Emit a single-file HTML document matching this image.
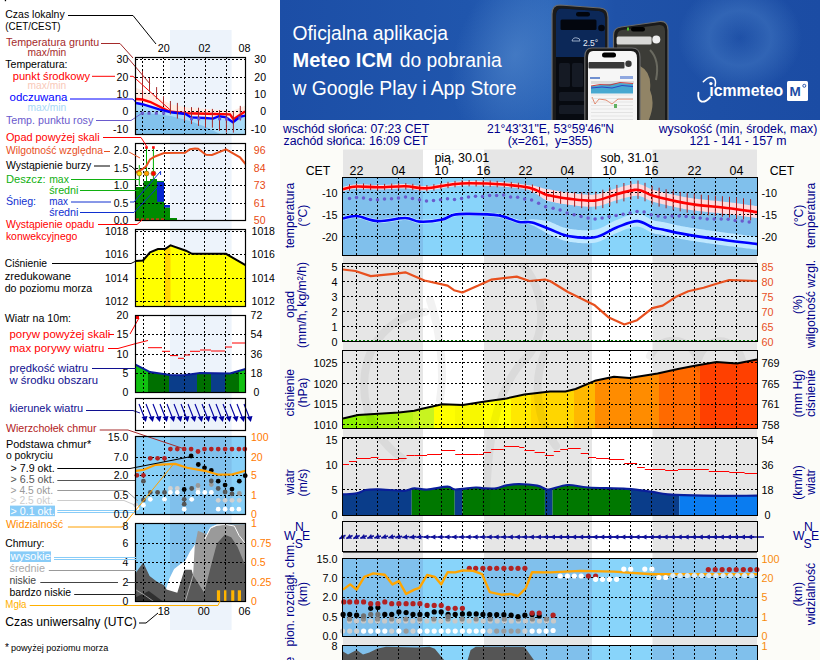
<!DOCTYPE html><html><head><meta charset="utf-8"><style>
html,body{margin:0;padding:0;background:#fff;}
svg{display:block;font-family:"Liberation Sans", sans-serif;}
</style></head><body><svg width="820" height="660" viewBox="0 0 820 660">
<rect x="0" y="0" width="820" height="660" fill="#ffffff"/>
<rect x="280" y="120" width="540" height="540" fill="#fcfcf8"/>
<defs>
<linearGradient id="bg1" x1="0" y1="0" x2="1" y2="0">
<stop offset="0" stop-color="#1c4ea6"/><stop offset="0.35" stop-color="#2056ad"/><stop offset="0.5" stop-color="#2a64b8"/><stop offset="0.62" stop-color="#1f52a8"/><stop offset="1" stop-color="#1b4ca4"/>
</linearGradient>
<radialGradient id="glow1" cx="0.5" cy="0.5" r="0.5"><stop offset="0" stop-color="#5a8fd0" stop-opacity="0.55"/><stop offset="1" stop-color="#5a8fd0" stop-opacity="0"/></radialGradient>
<radialGradient id="glow2" cx="0.5" cy="0.5" r="0.5"><stop offset="0" stop-color="#4a80c8" stop-opacity="0.05"/><stop offset="0.25" stop-color="#4a80c8" stop-opacity="0.25"/><stop offset="0.5" stop-color="#4a80c8" stop-opacity="0.45"/><stop offset="1" stop-color="#4a80c8" stop-opacity="0"/></radialGradient>
<clipPath id="bclip"><rect x="280" y="0" width="540" height="120"/></clipPath>
</defs>
<g clip-path="url(#bclip)">
<rect x="280" y="0" width="540" height="120" fill="url(#bg1)"/>
<ellipse cx="515" cy="55" rx="60" ry="90" fill="url(#glow1)" transform="rotate(20 515 55)"/>
<ellipse cx="740" cy="38" rx="62" ry="55" fill="url(#glow2)"/>
<text x="292.5" y="39.5" font-size="19.3" fill="#ffffff">Oficjalna aplikacja</text>
<text x="292.5" y="67.3" font-size="19.3" fill="#ffffff"><tspan font-weight="bold" textLength="100" lengthAdjust="spacingAndGlyphs">Meteo ICM</tspan><tspan x="399.8">do pobrania</tspan></text>
<text x="292.5" y="95.3" font-size="19.3" fill="#ffffff">w Google Play i App Store</text>
<path d="M560,5 L600,8 Q608,8.5 608,17 L608,125 L552,125 L552,14 Q552,5 560,5 Z" fill="#1a1a1a" stroke="#6a6a6a" stroke-width="1.2"/>
<path d="M562,8.5 L599,11 Q605,11.5 605,18 L605,125 L556,125 L556,16 Q556,8 562,8.5 Z" fill="#070a10"/>
<path d="M562,8.5 L599,11 Q605,11.5 605,18 L605,57 L556,57 L556,16 Q556,8 562,8.5 Z" fill="#0c2858"/>
<rect x="576" y="12" width="14" height="4.5" rx="2.2" fill="#02050c"/>
<rect x="560.5" y="19.5" width="36" height="10.5" rx="1.5" fill="#03060e"/>
<circle cx="601.5" cy="28" r="3.3" fill="#03060e"/>
<text x="583" y="45.5" font-size="8.5" fill="#e8eef8">2.5°</text>
<path d="M572,41 q1,-4 5,-3 q3,0 3,3 z" fill="none" stroke="#b8c8e0" stroke-width="0.8"/>
<rect x="559" y="63" width="11" height="24" rx="1.5" fill="#151a24"/>
<rect x="572" y="63" width="11" height="24" rx="1.5" fill="#151a24"/>
<rect x="585" y="63" width="11" height="24" rx="1.5" fill="#151a24"/>
<rect x="559" y="92" width="38" height="9" rx="1.5" fill="#151a24"/>
<rect x="559" y="105" width="38" height="9" rx="1.5" fill="#151a24"/>
<path d="M621,27 L660,21.5 Q668,21 668,30 L668,125 L613.5,125 L613.5,35 Q613.5,28 621,27 Z" fill="#1a1a1a" stroke="#6a6a6a" stroke-width="1.2"/>
<path d="M622,30 L659,25 Q665,24.5 665,31 L665,125 L617,125 L617,37 Q617,31 622,30 Z" fill="#3c3c37"/>
<path d="M640,66 Q652,72 650,90 Q656,104 648,122 L632,122 Q628,98 640,66 Z" fill="#9a8c6c" opacity="0.9"/>
<path d="M622,80 Q630,92 626,104 L620,106 Z" fill="#6a6456"/>
<path d="M650,50 Q660,60 656,80" fill="none" stroke="#6a6a60" stroke-width="2"/>
<rect x="616.6" y="36.5" width="35" height="8" rx="1.5" fill="#d8d8d6"/>
<circle cx="656.3" cy="39.6" r="4" fill="#f0f0f0"/>
<rect x="631" y="27" width="14" height="4.5" rx="2.2" fill="#000"/>
<rect x="627" y="27.5" width="2" height="3" fill="#50c030"/>
<path d="M592,48 L632,48 Q640,48 640,57 L640,125 L584.8,125 L584.8,57 Q584.8,48 592,48 Z" fill="#1a1a1a" stroke="#6a6a6a" stroke-width="1.2"/>
<path d="M593,51 L631,51 Q637,51 637,58 L637,125 L588,125 L588,58 Q588,51 593,51 Z" fill="#f6f6f6"/>
<rect x="602" y="52.5" width="14" height="5" rx="2.5" fill="#000"/>
<rect x="588.5" y="62" width="36" height="6.5" rx="1" fill="#383838"/>
<circle cx="628.5" cy="63.8" r="3.2" fill="#383838"/>
<rect x="590" y="77" width="10" height="2" fill="#7090d0"/>
<rect x="620" y="76" width="13" height="3" fill="#90a8e0"/>
<rect x="591" y="81" width="43" height="3" fill="#dcdcdc"/>
<polygon points="591,86 600,85 610,84 620,83 633,84 633,93.5 591,93.5" fill="#48a8d0"/>
<polyline points="591,86 600,84.5 610,85 620,82.5 633,83.5" fill="none" stroke="#d03030" stroke-width="0.9"/>
<polyline points="591,88 602,87 612,88 622,85.5 633,86.5" fill="none" stroke="#2a3ac0" stroke-width="0.9"/>
<polyline points="592,97 595,104 599,99 606,100 612,104 618,99 633,99" fill="none" stroke="#e06a48" stroke-width="0.8"/>
<line x1="591" y1="95.0" x2="633" y2="95.0" stroke="#d0d0d0" stroke-width="0.5"/>
<line x1="591" y1="98.5" x2="633" y2="98.5" stroke="#d0d0d0" stroke-width="0.5"/>
<line x1="591" y1="102.0" x2="633" y2="102.0" stroke="#d0d0d0" stroke-width="0.5"/>
<line x1="591" y1="105.5" x2="633" y2="105.5" stroke="#d0d0d0" stroke-width="0.5"/>
<line x1="591" y1="109.0" x2="633" y2="109.0" stroke="#d0d0d0" stroke-width="0.5"/>
<line x1="591" y1="112.5" x2="633" y2="112.5" stroke="#d0d0d0" stroke-width="0.5"/>
<line x1="591" y1="116.0" x2="633" y2="116.0" stroke="#d0d0d0" stroke-width="0.5"/>
<line x1="591" y1="119.5" x2="633" y2="119.5" stroke="#d0d0d0" stroke-width="0.5"/>
<rect x="614" y="104" width="3" height="4" fill="#60b060"/>
<path d="M703.3,81.8 Q709,75.5 713.5,77.8 Q716.5,80 715.1,86" fill="none" stroke="#ffffff" stroke-width="1.5" stroke-linecap="round"/>
<path d="M698.4,92.6 Q697.5,100 701.5,101.5 Q705.5,102.5 710,97.3" fill="none" stroke="#ffffff" stroke-width="1.9" stroke-linecap="round"/>
<circle cx="710.9" cy="83.6" r="1.7" fill="#ffffff"/>
<text x="709.3" y="95.7" font-size="17" font-weight="bold" fill="#ffffff" textLength="74" lengthAdjust="spacingAndGlyphs">ıcmmeteo</text>
<rect x="787" y="81" width="21" height="20" rx="1.5" fill="#ffffff"/>
<text x="789.5" y="96" font-size="13.5" font-weight="bold" fill="#1b4ca4">M</text>
<circle cx="804.3" cy="85.8" r="1.5" fill="none" stroke="#1b4ca4" stroke-width="0.9"/>
</g>
<text x="283" y="132.5" font-size="12.3" fill="#00008b" text-anchor="start" font-weight="normal" >wschód słońca: 07:23 CET</text>
<text x="283.5" y="145" font-size="12.3" fill="#00008b" text-anchor="start" font-weight="normal" >zachód słońca: 16:09 CET</text>
<text x="550.5" y="132.5" font-size="12.1" fill="#00008b" text-anchor="middle" font-weight="normal" >21°43'31"E, 53°59'46"N</text>
<text x="550" y="145" font-size="12.1" fill="#00008b" text-anchor="middle" font-weight="normal" >(x=261,&#160; y=355)</text>
<text x="738" y="132.5" font-size="12.3" fill="#00008b" text-anchor="middle" font-weight="normal" >wysokość (min, środek, max)</text>
<text x="738" y="145" font-size="12.3" fill="#00008b" text-anchor="middle" font-weight="normal" >121 - 141 - 157 m</text>
<rect x="343" y="149.5" width="414" height="27.5" fill="#e6e6e6"/>
<rect x="423" y="149.5" width="61.0" height="27.5" fill="#ffffff"/>
<rect x="592" y="149.5" width="60.5" height="27.5" fill="#ffffff"/>
<text x="434.4" y="162" font-size="12.5" fill="#000" text-anchor="start" font-weight="normal" >pią, 30.01</text>
<text x="600.4" y="162" font-size="12.5" fill="#000" text-anchor="start" font-weight="normal" >sob, 31.01</text>
<text x="356.5" y="174.5" font-size="12.5" fill="#000" text-anchor="middle" font-weight="normal" >22</text>
<text x="398.5" y="174.5" font-size="12.5" fill="#000" text-anchor="middle" font-weight="normal" >04</text>
<text x="441.5" y="174.5" font-size="12.5" fill="#000" text-anchor="middle" font-weight="normal" >10</text>
<text x="483.5" y="174.5" font-size="12.5" fill="#000" text-anchor="middle" font-weight="normal" >16</text>
<text x="525.5" y="174.5" font-size="12.5" fill="#000" text-anchor="middle" font-weight="normal" >22</text>
<text x="567.5" y="174.5" font-size="12.5" fill="#000" text-anchor="middle" font-weight="normal" >04</text>
<text x="609.5" y="174.5" font-size="12.5" fill="#000" text-anchor="middle" font-weight="normal" >10</text>
<text x="651.5" y="174.5" font-size="12.5" fill="#000" text-anchor="middle" font-weight="normal" >16</text>
<text x="694.5" y="174.5" font-size="12.5" fill="#000" text-anchor="middle" font-weight="normal" >22</text>
<text x="736.5" y="174.5" font-size="12.5" fill="#000" text-anchor="middle" font-weight="normal" >04</text>
<text x="318" y="174.5" font-size="12.3" fill="#000" text-anchor="middle" font-weight="normal" >CET</text>
<text x="782" y="174.5" font-size="12.3" fill="#000" text-anchor="middle" font-weight="normal" >CET</text>
<rect x="343" y="256" width="414" height="7" fill="#e6e6e6"/>
<rect x="423" y="256" width="61.0" height="7" fill="#ffffff"/>
<rect x="592" y="256" width="60.5" height="7" fill="#ffffff"/>
<rect x="343" y="342" width="414" height="8" fill="#e6e6e6"/>
<rect x="423" y="342" width="61.0" height="8" fill="#ffffff"/>
<rect x="592" y="342" width="60.5" height="8" fill="#ffffff"/>
<rect x="343" y="429" width="414" height="8" fill="#e6e6e6"/>
<rect x="423" y="429" width="61.0" height="8" fill="#ffffff"/>
<rect x="592" y="429" width="60.5" height="8" fill="#ffffff"/>
<rect x="343" y="516" width="414" height="5" fill="#e6e6e6"/>
<rect x="423" y="516" width="61.0" height="5" fill="#ffffff"/>
<rect x="592" y="516" width="60.5" height="5" fill="#ffffff"/>
<rect x="343" y="552" width="414" height="6" fill="#e6e6e6"/>
<rect x="423" y="552" width="61.0" height="6" fill="#ffffff"/>
<rect x="592" y="552" width="60.5" height="6" fill="#ffffff"/>
<rect x="343" y="637" width="414" height="8" fill="#e6e6e6"/>
<rect x="423" y="637" width="61.0" height="8" fill="#ffffff"/>
<rect x="592" y="637" width="60.5" height="8" fill="#ffffff"/>
<rect x="343" y="177" width="414" height="79" fill="#80c0ec"/>
<rect x="423" y="177" width="61.0" height="79" fill="#88d4fa"/>
<rect x="592" y="177" width="60.5" height="79" fill="#88d4fa"/>
<polygon points="343.0,186.9 343.8,186.7 344.7,186.5 345.8,186.2 347.1,185.9 348.4,185.6 349.5,185.3 349.9,185.2 351.5,184.9 353.0,184.7 353.1,184.6 354.8,184.4 356.5,184.3 356.6,184.3 358.4,184.3 360.0,184.3 360.4,184.3 362.4,184.3 363.5,184.4 364.5,184.5 366.7,184.6 367.0,184.6 368.9,184.7 370.6,184.8 371.2,184.9 373.6,185.0 374.1,185.0 376.0,185.1 377.6,185.1 378.4,185.1 380.9,185.1 381.1,185.1 383.6,185.0 384.6,184.9 386.3,184.8 388.1,184.7 389.1,184.7 391.7,184.5 391.9,184.5 394.8,184.4 395.2,184.3 397.5,184.2 398.7,184.2 400.2,184.1 402.2,184.1 402.8,184.1 405.3,184.1 405.8,184.1 407.6,184.2 409.3,184.4 409.8,184.4 411.8,184.7 412.8,184.8 413.8,185.0 415.7,185.3 416.3,185.4 417.6,185.6 419.6,185.8 419.8,185.8 421.6,186.0 423.3,186.1 423.6,186.1 425.8,186.1 426.9,186.0 428.1,186.0 430.4,185.7 430.5,185.7 432.9,185.4 433.9,185.2 435.4,185.0 437.4,184.6 438.0,184.5 440.5,184.1 440.9,184.0 443.0,183.6 444.4,183.3 445.4,183.2 447.8,182.8 448.0,182.8 450.0,182.5 451.5,182.3 452.1,182.3 453.9,182.0 455.0,181.9 455.7,181.8 457.3,181.6 458.5,181.5 459.0,181.4 460.7,181.3 462.1,181.2 462.5,181.2 464.5,181.1 465.6,181.1 466.8,181.0 469.1,181.0 469.3,181.0 472.2,181.0 472.6,181.0 475.4,181.0 476.1,181.1 478.8,181.1 479.6,181.1 482.5,181.2 483.2,181.2 486.2,181.3 486.7,181.4 490.0,181.5 490.2,181.5 493.7,181.7 493.7,181.7 497.2,181.9 497.3,181.9 500.7,182.1 500.7,182.1 503.9,182.3 504.3,182.3 506.9,182.5 507.8,182.6 509.8,182.8 511.3,182.9 512.6,183.0 514.8,183.3 515.3,183.3 517.9,183.6 518.4,183.7 520.4,184.0 521.9,184.2 522.9,184.3 525.2,184.7 525.4,184.8 527.4,185.1 528.9,185.3 529.5,185.3 531.5,185.5 532.4,185.6 533.4,185.7 535.2,186.1 535.9,186.3 536.9,186.5 538.5,186.9 539.5,187.2 540.0,187.4 541.4,187.8 542.6,188.2 543.0,188.3 543.8,188.5 544.9,188.8 545.8,189.0 546.4,189.1 546.5,189.1 546.8,189.1 547.1,189.2 547.3,189.2 547.5,189.2 547.9,189.2 548.3,189.2 549.0,189.3 550.0,189.5 550.0,189.5 551.2,189.7 552.6,190.0 553.5,190.2 554.1,190.3 555.8,190.7 557.0,190.9 557.6,191.0 559.5,191.4 560.6,191.5 561.5,191.7 563.5,192.0 564.1,192.1 565.7,192.3 567.6,192.6 567.9,192.6 570.2,192.9 571.1,193.0 572.8,193.2 574.6,193.4 575.5,193.5 578.1,193.9 578.3,193.9 581.1,194.2 581.7,194.2 584.0,194.5 585.2,194.5 586.8,194.7 588.7,194.7 589.6,194.8 592.2,194.7 592.3,194.7 594.8,194.6 595.8,194.5 597.2,194.3 599.3,193.9 599.5,193.8 601.8,193.2 602.8,192.9 604.1,192.5 606.3,191.8 606.3,191.8 608.4,191.0 609.8,190.5 610.5,190.2 612.6,189.5 613.3,189.2 614.6,188.8 616.6,188.2 616.9,188.1 618.6,187.7 620.4,187.2 620.6,187.1 622.6,186.6 623.9,186.2 624.5,186.1 626.4,185.6 627.4,185.3 628.3,185.1 630.0,184.7 630.9,184.5 631.6,184.4 633.1,184.1 634.4,183.9 634.5,183.9 635.7,183.8 636.7,183.7 637.5,183.7 638.0,183.7 638.2,183.7 638.8,183.8 639.4,184.0 640.0,184.2 640.7,184.4 641.4,184.6 641.5,184.7 642.2,184.9 643.1,185.2 643.9,185.6 644.8,186.0 645.0,186.1 645.6,186.5 646.5,186.9 647.5,187.5 648.5,188.0 648.5,188.0 649.7,188.5 651.0,189.0 652.1,189.4 652.4,189.5 654.0,190.0 655.6,190.4 655.8,190.5 657.8,191.0 659.1,191.4 659.9,191.6 662.0,192.1 662.6,192.2 664.2,192.6 666.1,193.1 666.4,193.1 668.6,193.7 669.6,193.9 670.8,194.1 672.9,194.6 673.2,194.7 674.9,195.0 676.7,195.4 676.8,195.4 678.6,195.8 680.2,196.2 680.4,196.2 682.2,196.6 683.7,196.9 684.1,196.9 686.1,197.3 687.2,197.5 688.3,197.7 690.7,198.0 690.7,198.0 693.4,198.4 694.3,198.5 696.4,198.8 697.8,198.9 699.7,199.2 701.3,199.3 703.3,199.6 704.8,199.7 707.0,200.0 708.4,200.1 710.9,200.4 711.9,200.4 714.8,200.7 715.4,200.8 718.6,201.1 718.9,201.2 722.4,201.5 722.4,201.5 725.9,201.9 726.0,201.9 729.3,202.3 729.5,202.3 732.5,202.7 733.0,202.8 735.8,203.1 736.5,203.2 739.1,203.6 740.0,203.7 742.3,204.0 743.5,204.2 745.4,204.4 747.0,204.7 748.3,204.9 750.6,205.2 751.0,205.2 753.4,205.6 754.1,205.7 755.4,205.9 757.0,206.1 757.0,218.1 755.4,217.9 754.1,217.7 753.4,217.6 751.0,217.2 750.6,217.2 748.3,216.9 747.0,216.7 745.4,216.4 743.5,216.2 742.3,216.0 740.0,215.7 739.1,215.6 736.5,215.2 735.8,215.1 733.0,214.8 732.5,214.7 729.5,214.3 729.3,214.3 726.0,213.9 725.9,213.9 722.4,213.5 722.4,213.5 718.9,213.2 718.6,213.1 715.4,212.8 714.8,212.7 711.9,212.4 710.9,212.4 708.4,212.1 707.0,212.0 704.8,211.7 703.3,211.6 701.3,211.3 699.7,211.2 697.8,210.9 696.4,210.8 694.3,210.5 693.4,210.4 690.7,210.0 690.7,210.0 688.3,209.7 687.2,209.5 686.1,209.3 684.1,208.9 683.7,208.9 682.2,208.6 680.4,208.2 680.2,208.2 678.6,207.8 676.8,207.4 676.7,207.4 674.9,207.0 673.2,206.7 672.9,206.6 670.8,206.1 669.6,205.9 668.6,205.7 666.4,205.1 666.1,205.1 664.2,204.6 662.6,204.2 662.0,204.1 659.9,203.6 659.1,203.4 657.8,203.0 655.8,202.5 655.6,202.4 654.0,202.0 652.4,201.5 652.1,201.4 651.0,201.0 649.7,200.5 648.5,200.0 648.5,200.0 647.5,199.5 646.5,198.9 645.6,198.5 645.0,198.1 644.8,198.0 643.9,197.6 643.1,197.2 642.2,196.9 641.5,196.7 641.4,196.6 640.7,196.4 640.0,196.2 639.4,196.0 638.8,195.8 638.2,195.7 638.0,195.7 637.5,195.7 636.7,195.7 635.7,195.8 634.5,195.9 634.4,195.9 633.1,196.1 631.6,196.4 630.9,196.5 630.0,196.7 628.3,197.1 627.4,197.3 626.4,197.6 624.5,198.1 623.9,198.2 622.6,198.6 620.6,199.1 620.4,199.2 618.6,199.7 616.9,200.1 616.6,200.2 614.6,200.8 613.3,201.2 612.6,201.5 610.5,202.2 609.8,202.5 608.4,203.0 606.3,203.8 606.3,203.8 604.1,204.5 602.8,204.9 601.8,205.2 599.5,205.8 599.3,205.9 597.2,206.3 595.8,206.5 594.8,206.6 592.3,206.7 592.2,206.7 589.6,206.8 588.7,206.7 586.8,206.7 585.2,206.5 584.0,206.5 581.7,206.2 581.1,206.2 578.3,205.9 578.1,205.9 575.5,205.5 574.6,205.4 572.8,205.2 571.1,205.0 570.2,204.9 567.9,204.6 567.6,204.6 565.7,204.3 564.1,204.1 563.5,204.0 561.5,203.7 560.6,203.5 559.5,203.4 557.6,203.0 557.0,202.9 555.8,202.7 554.1,202.3 553.5,202.2 552.6,202.0 551.2,201.7 550.0,201.5 550.0,201.5 549.0,201.3 548.3,201.2 547.9,201.1 547.5,201.0 547.3,200.9 547.1,200.8 546.8,200.7 546.5,200.5 546.4,200.4 545.8,200.1 544.9,199.6 543.8,199.0 543.0,198.4 542.6,198.2 541.4,197.3 540.0,196.3 539.5,196.0 538.5,195.3 536.9,194.3 535.9,193.7 535.2,193.2 533.4,192.2 532.4,191.7 531.5,191.2 529.5,190.3 528.9,190.0 527.4,189.5 525.4,189.2 525.2,189.1 522.9,188.7 521.9,188.6 520.4,188.4 518.4,188.1 517.9,188.0 515.3,187.7 514.8,187.7 512.6,187.4 511.3,187.3 509.8,187.2 507.8,187.0 506.9,186.9 504.3,186.7 503.9,186.7 500.7,186.5 500.7,186.5 497.3,186.3 497.2,186.3 493.7,186.1 493.7,186.1 490.2,185.9 490.0,185.9 486.7,185.8 486.2,185.7 483.2,185.6 482.5,185.6 479.6,185.5 478.8,185.5 476.1,185.5 475.4,185.4 472.6,185.4 472.2,185.4 469.3,185.4 469.1,185.4 466.8,185.4 465.6,185.5 464.5,185.5 462.5,185.6 462.1,185.6 460.7,185.7 459.0,185.8 458.5,185.9 457.3,186.0 455.7,186.2 455.0,186.3 453.9,186.4 452.1,186.7 451.5,186.7 450.0,186.9 448.0,187.2 447.8,187.2 445.4,187.6 444.4,187.7 443.0,188.0 440.9,188.4 440.5,188.5 438.0,188.9 437.4,189.0 435.4,189.4 433.9,189.6 432.9,189.8 430.5,190.1 430.4,190.1 428.1,190.4 426.9,190.4 425.8,190.5 423.6,190.5 423.3,190.5 421.6,190.4 419.8,190.2 419.6,190.2 417.6,190.0 416.3,189.8 415.7,189.7 413.8,189.4 412.8,189.2 411.8,189.1 409.8,188.8 409.3,188.8 407.6,188.6 405.8,188.5 405.3,188.5 402.8,188.5 402.2,188.5 400.2,188.5 398.7,188.6 397.5,188.6 395.2,188.7 394.8,188.8 391.9,188.9 391.7,188.9 389.1,189.1 388.1,189.1 386.3,189.2 384.6,189.3 383.6,189.4 381.1,189.5 380.9,189.5 378.4,189.5 377.6,189.5 376.0,189.5 374.1,189.4 373.6,189.4 371.2,189.3 370.6,189.2 368.9,189.1 367.0,189.0 366.7,189.0 364.5,188.9 363.5,188.8 362.4,188.7 360.4,188.7 360.0,188.7 358.4,188.7 356.6,188.7 356.5,188.7 354.8,188.8 353.1,189.0 353.0,189.1 351.5,189.3 349.9,189.6 349.5,189.7 348.4,189.9 347.1,190.3 345.8,190.6 344.7,190.9 343.8,191.1 343.0,191.3" fill="#ffd9dc"/>
<polygon points="343.0,216.5 343.8,216.3 344.7,216.0 345.8,215.7 347.1,215.3 348.4,214.9 349.5,214.7 349.9,214.6 351.5,214.3 353.0,214.1 353.1,214.1 354.8,214.0 356.5,214.0 356.6,214.0 358.4,214.2 360.0,214.6 360.4,214.7 362.4,215.3 363.5,215.6 364.5,215.9 366.7,216.7 367.0,216.8 368.9,217.4 370.6,217.8 371.2,218.0 373.6,218.5 374.1,218.6 376.0,218.9 377.6,219.1 378.4,219.1 380.9,219.1 381.1,219.1 383.6,218.9 384.6,218.7 386.3,218.5 388.1,218.3 389.1,218.1 391.7,217.7 391.9,217.7 394.8,217.2 395.2,217.1 397.5,216.8 398.7,216.6 400.2,216.4 402.2,216.2 402.8,216.1 405.3,216.0 405.8,216.0 407.6,216.2 409.3,216.5 409.8,216.6 411.8,217.3 412.8,217.8 413.8,218.2 415.7,218.9 416.3,219.1 417.6,219.4 419.6,219.6 419.8,219.6 421.6,219.7 423.3,219.6 423.6,219.6 425.8,219.6 426.9,219.5 428.1,219.4 430.4,219.2 430.5,219.2 432.9,219.0 433.9,218.9 435.4,218.7 437.4,218.4 438.0,218.4 440.5,217.9 440.9,217.8 443.0,217.4 444.4,216.9 445.4,216.5 447.8,215.3 448.0,215.2 450.0,214.1 451.5,213.5 452.1,213.3 453.9,212.7 455.0,212.5 455.7,212.4 457.3,212.1 458.5,212.0 459.0,212.0 460.7,211.9 462.1,211.8 462.5,211.8 464.5,211.8 465.6,211.8 466.8,211.9 469.1,211.9 469.3,211.9 472.2,211.9 472.6,212.0 475.4,212.0 476.1,212.0 478.8,212.1 479.6,212.1 482.5,212.2 483.2,212.2 486.2,212.4 486.7,212.4 490.0,212.6 490.2,212.6 493.7,212.9 493.7,212.9 497.2,213.3 497.3,213.3 500.7,213.8 500.7,213.8 503.9,214.6 504.3,214.7 506.9,215.6 507.8,215.9 509.8,216.7 511.3,217.3 512.6,217.8 514.8,218.6 515.3,218.8 517.9,219.6 518.4,219.7 520.4,220.1 521.9,220.3 522.9,220.3 525.2,220.2 525.4,220.1 527.4,220.0 528.9,219.7 529.5,219.6 531.5,219.3 532.4,219.3 533.4,219.3 535.2,219.4 535.9,219.4 536.9,219.5 538.5,219.7 539.5,219.8 540.0,219.9 541.4,220.1 542.6,220.3 543.0,220.3 543.8,220.4 544.9,220.6 545.8,220.7 546.4,220.8 546.5,220.8 546.8,220.9 547.1,220.9 547.3,220.9 547.5,221.0 547.9,221.0 548.3,221.1 549.0,221.4 550.0,221.8 550.0,221.8 551.2,222.3 552.6,222.9 553.5,223.3 554.1,223.6 555.8,224.3 557.0,224.9 557.6,225.1 559.5,226.0 560.6,226.4 561.5,226.7 563.5,227.4 564.1,227.6 565.7,228.0 567.6,228.4 567.9,228.5 570.2,228.9 571.1,229.0 572.8,229.3 574.6,229.5 575.5,229.6 578.1,229.9 578.3,229.9 581.1,230.1 581.7,230.2 584.0,230.3 585.2,230.3 586.8,230.3 588.7,230.3 589.6,230.2 592.2,230.1 592.3,230.0 594.8,229.7 595.8,229.5 597.2,229.2 599.3,228.5 599.5,228.4 601.8,227.4 602.8,227.0 604.1,226.4 606.3,225.2 606.3,225.2 608.4,224.1 609.8,223.3 610.5,222.9 612.6,221.8 613.3,221.5 614.6,220.8 616.6,220.0 616.9,219.9 618.6,219.2 620.4,218.5 620.6,218.4 622.6,217.6 623.9,217.1 624.5,216.8 626.4,216.1 627.4,215.7 628.3,215.4 630.0,214.9 630.9,214.6 631.6,214.4 633.1,214.1 634.4,213.8 634.5,213.8 635.7,213.7 636.7,213.6 637.5,213.6 638.0,213.7 638.2,213.7 638.8,213.7 639.4,213.9 640.0,214.0 640.7,214.2 641.4,214.4 641.5,214.5 642.2,214.7 643.1,215.1 643.9,215.5 644.8,215.9 645.0,216.1 645.6,216.4 646.5,216.9 647.5,217.5 648.5,218.1 648.5,218.1 649.7,218.7 651.0,219.4 652.1,219.9 652.4,220.0 654.0,220.5 655.6,220.9 655.8,220.9 657.8,221.2 659.1,221.4 659.9,221.5 662.0,221.9 662.6,222.0 664.2,222.3 666.1,222.8 666.4,222.8 668.6,223.3 669.6,223.6 670.8,223.8 672.9,224.3 673.2,224.4 674.9,224.8 676.7,225.1 676.8,225.2 678.6,225.5 680.2,225.8 680.4,225.9 682.2,226.2 683.7,226.5 684.1,226.6 686.1,226.9 687.2,227.1 688.3,227.3 690.7,227.7 690.7,227.7 693.4,228.1 694.3,228.2 696.4,228.6 697.8,228.8 699.7,229.1 701.3,229.3 703.3,229.6 704.8,229.8 707.0,230.2 708.4,230.3 710.9,230.7 711.9,230.8 714.8,231.3 715.4,231.3 718.6,231.8 718.9,231.8 722.4,232.3 722.4,232.3 725.9,232.7 726.0,232.8 729.3,233.2 729.5,233.2 732.5,233.6 733.0,233.6 735.8,234.0 736.5,234.1 739.1,234.4 740.0,234.5 742.3,234.8 743.5,234.9 745.4,235.2 747.0,235.4 748.3,235.5 750.6,235.8 751.0,235.9 753.4,236.2 754.1,236.2 755.4,236.4 757.0,236.6 757.0,249.6 755.4,249.4 754.1,249.2 753.4,249.2 751.0,248.9 750.6,248.8 748.3,248.5 747.0,248.4 745.4,248.2 743.5,247.9 742.3,247.8 740.0,247.5 739.1,247.4 736.5,247.1 735.8,247.0 733.0,246.6 732.5,246.6 729.5,246.2 729.3,246.2 726.0,245.8 725.9,245.7 722.4,245.3 722.4,245.3 718.9,244.8 718.6,244.8 715.4,244.3 714.8,244.3 711.9,243.8 710.9,243.7 708.4,243.3 707.0,243.2 704.8,242.8 703.3,242.6 701.3,242.3 699.7,242.1 697.8,241.8 696.4,241.6 694.3,241.2 693.4,241.1 690.7,240.7 690.7,240.7 688.3,240.3 687.2,240.1 686.1,239.9 684.1,239.6 683.7,239.5 682.2,239.2 680.4,238.9 680.2,238.8 678.6,238.5 676.8,238.2 676.7,238.1 674.9,237.8 673.2,237.4 672.9,237.3 670.8,236.8 669.6,236.6 668.6,236.3 666.4,235.8 666.1,235.8 664.2,235.3 662.6,235.0 662.0,234.9 659.9,234.5 659.1,234.4 657.8,234.2 655.8,233.9 655.6,233.9 654.0,233.5 652.4,233.0 652.1,232.9 651.0,232.4 649.7,231.7 648.5,231.1 648.5,231.1 647.5,230.5 646.5,229.9 645.6,229.4 645.0,229.1 644.8,228.9 643.9,228.5 643.1,228.1 642.2,227.7 641.5,227.5 641.4,227.4 640.7,227.2 640.0,227.0 639.4,226.9 638.8,226.7 638.2,226.7 638.0,226.7 637.5,226.6 636.7,226.6 635.7,226.7 634.5,226.8 634.4,226.8 633.1,227.1 631.6,227.4 630.9,227.6 630.0,227.9 628.3,228.4 627.4,228.7 626.4,229.1 624.5,229.8 623.9,230.1 622.6,230.6 620.6,231.4 620.4,231.5 618.6,232.2 616.9,232.9 616.6,233.0 614.6,233.8 613.3,234.5 612.6,234.8 610.5,235.9 609.8,236.3 608.4,237.1 606.3,238.2 606.3,238.2 604.1,239.4 602.8,240.0 601.8,240.4 599.5,241.4 599.3,241.5 597.2,242.2 595.8,242.5 594.8,242.7 592.3,243.0 592.2,243.1 589.6,243.2 588.7,243.3 586.8,243.3 585.2,243.3 584.0,243.3 581.7,243.2 581.1,243.1 578.3,242.9 578.1,242.9 575.5,242.6 574.6,242.5 572.8,242.3 571.1,242.0 570.2,241.9 567.9,241.5 567.6,241.4 565.7,241.0 564.1,240.6 563.5,240.4 561.5,239.7 560.6,239.4 559.5,239.0 557.6,238.1 557.0,237.9 555.8,237.3 554.1,236.6 553.5,236.3 552.6,235.9 551.2,235.3 550.0,234.8 550.0,234.8 549.0,234.4 548.3,234.1 547.9,233.9 547.5,233.7 547.3,233.6 547.1,233.5 546.8,233.3 546.5,233.1 546.4,233.1 545.8,232.7 544.9,232.2 543.8,231.5 543.0,231.0 542.6,230.8 541.4,230.1 540.0,229.3 539.5,229.0 538.5,228.4 536.9,227.5 535.9,227.0 535.2,226.6 533.4,225.7 532.4,225.3 531.5,224.9 529.5,224.3 528.9,224.1 527.4,224.0 525.4,224.1 525.2,224.2 522.9,224.3 521.9,224.3 520.4,224.1 518.4,223.7 517.9,223.6 515.3,222.8 514.8,222.6 512.6,221.8 511.3,221.3 509.8,220.7 507.8,219.9 506.9,219.6 504.3,218.7 503.9,218.6 500.7,217.8 500.7,217.8 497.3,217.3 497.2,217.3 493.7,216.9 493.7,216.9 490.2,216.6 490.0,216.6 486.7,216.4 486.2,216.4 483.2,216.2 482.5,216.2 479.6,216.1 478.8,216.1 476.1,216.0 475.4,216.0 472.6,216.0 472.2,215.9 469.3,215.9 469.1,215.9 466.8,215.9 465.6,215.8 464.5,215.8 462.5,215.8 462.1,215.8 460.7,215.9 459.0,216.0 458.5,216.0 457.3,216.1 455.7,216.4 455.0,216.5 453.9,216.7 452.1,217.3 451.5,217.5 450.0,218.1 448.0,219.2 447.8,219.3 445.4,220.5 444.4,220.9 443.0,221.4 440.9,221.8 440.5,221.9 438.0,222.4 437.4,222.4 435.4,222.7 433.9,222.9 432.9,223.0 430.5,223.2 430.4,223.2 428.1,223.4 426.9,223.5 425.8,223.6 423.6,223.6 423.3,223.6 421.6,223.7 419.8,223.6 419.6,223.6 417.6,223.4 416.3,223.1 415.7,222.9 413.8,222.2 412.8,221.8 411.8,221.3 409.8,220.6 409.3,220.5 407.6,220.2 405.8,220.0 405.3,220.0 402.8,220.1 402.2,220.2 400.2,220.4 398.7,220.6 397.5,220.8 395.2,221.1 394.8,221.2 391.9,221.7 391.7,221.7 389.1,222.1 388.1,222.3 386.3,222.5 384.6,222.7 383.6,222.9 381.1,223.1 380.9,223.1 378.4,223.1 377.6,223.1 376.0,222.9 374.1,222.6 373.6,222.5 371.2,222.0 370.6,221.8 368.9,221.4 367.0,220.8 366.7,220.7 364.5,219.9 363.5,219.6 362.4,219.3 360.4,218.7 360.0,218.6 358.4,218.2 356.6,218.0 356.5,218.0 354.8,218.0 353.1,218.1 353.0,218.1 351.5,218.3 349.9,218.6 349.5,218.7 348.4,218.9 347.1,219.3 345.8,219.7 344.7,220.0 343.8,220.3 343.0,220.5" fill="#c0e8ff"/>
<line x1="343" y1="192.5" x2="757" y2="192.5" stroke="#000" stroke-width="1" stroke-dasharray="2,2"/>
<line x1="343" y1="214.5" x2="757" y2="214.5" stroke="#000" stroke-width="1" stroke-dasharray="2,2"/>
<line x1="343" y1="236.5" x2="757" y2="236.5" stroke="#000" stroke-width="1" stroke-dasharray="2,2"/>
<line x1="356.5" y1="177" x2="356.5" y2="256" stroke="#000" stroke-width="1" stroke-dasharray="2,2"/>
<line x1="377.5" y1="177" x2="377.5" y2="256" stroke="#000" stroke-width="1" stroke-dasharray="2,2"/>
<line x1="398.5" y1="177" x2="398.5" y2="256" stroke="#000" stroke-width="1" stroke-dasharray="2,2"/>
<line x1="419.5" y1="177" x2="419.5" y2="256" stroke="#000" stroke-width="1" stroke-dasharray="2,2"/>
<line x1="441.5" y1="177" x2="441.5" y2="256" stroke="#000" stroke-width="1" stroke-dasharray="2,2"/>
<line x1="462.5" y1="177" x2="462.5" y2="256" stroke="#000" stroke-width="1" stroke-dasharray="2,2"/>
<line x1="483.5" y1="177" x2="483.5" y2="256" stroke="#000" stroke-width="1" stroke-dasharray="2,2"/>
<line x1="504.5" y1="177" x2="504.5" y2="256" stroke="#000" stroke-width="1" stroke-dasharray="2,2"/>
<line x1="525.5" y1="177" x2="525.5" y2="256" stroke="#000" stroke-width="1" stroke-dasharray="2,2"/>
<line x1="546.5" y1="177" x2="546.5" y2="256" stroke="#000" stroke-width="1" stroke-dasharray="2,2"/>
<line x1="567.5" y1="177" x2="567.5" y2="256" stroke="#000" stroke-width="1" stroke-dasharray="2,2"/>
<line x1="588.5" y1="177" x2="588.5" y2="256" stroke="#000" stroke-width="1" stroke-dasharray="2,2"/>
<line x1="609.5" y1="177" x2="609.5" y2="256" stroke="#000" stroke-width="1" stroke-dasharray="2,2"/>
<line x1="630.5" y1="177" x2="630.5" y2="256" stroke="#000" stroke-width="1" stroke-dasharray="2,2"/>
<line x1="651.5" y1="177" x2="651.5" y2="256" stroke="#000" stroke-width="1" stroke-dasharray="2,2"/>
<line x1="673.5" y1="177" x2="673.5" y2="256" stroke="#000" stroke-width="1" stroke-dasharray="2,2"/>
<line x1="694.5" y1="177" x2="694.5" y2="256" stroke="#000" stroke-width="1" stroke-dasharray="2,2"/>
<line x1="715.5" y1="177" x2="715.5" y2="256" stroke="#000" stroke-width="1" stroke-dasharray="2,2"/>
<line x1="736.5" y1="177" x2="736.5" y2="256" stroke="#000" stroke-width="1" stroke-dasharray="2,2"/>
<line x1="349.5" y1="184.3" x2="349.5" y2="190.7" stroke="#a81c1c" stroke-width="1"/>
<line x1="356.5" y1="183.3" x2="356.5" y2="189.7" stroke="#a81c1c" stroke-width="1"/>
<line x1="363.5" y1="183.4" x2="363.5" y2="189.8" stroke="#a81c1c" stroke-width="1"/>
<line x1="370.6" y1="183.8" x2="370.6" y2="190.2" stroke="#a81c1c" stroke-width="1"/>
<line x1="377.6" y1="184.1" x2="377.6" y2="190.5" stroke="#a81c1c" stroke-width="1"/>
<line x1="384.6" y1="183.9" x2="384.6" y2="190.3" stroke="#a81c1c" stroke-width="1"/>
<line x1="391.7" y1="183.5" x2="391.7" y2="189.9" stroke="#a81c1c" stroke-width="1"/>
<line x1="398.7" y1="183.2" x2="398.7" y2="189.6" stroke="#a81c1c" stroke-width="1"/>
<line x1="405.8" y1="183.1" x2="405.8" y2="189.5" stroke="#a81c1c" stroke-width="1"/>
<line x1="412.8" y1="183.8" x2="412.8" y2="190.2" stroke="#a81c1c" stroke-width="1"/>
<line x1="419.8" y1="184.8" x2="419.8" y2="191.2" stroke="#a81c1c" stroke-width="1"/>
<line x1="426.9" y1="185.0" x2="426.9" y2="191.4" stroke="#a81c1c" stroke-width="1"/>
<line x1="433.9" y1="184.2" x2="433.9" y2="190.6" stroke="#a81c1c" stroke-width="1"/>
<line x1="440.9" y1="183.0" x2="440.9" y2="189.4" stroke="#a81c1c" stroke-width="1"/>
<line x1="448.0" y1="181.8" x2="448.0" y2="188.2" stroke="#a81c1c" stroke-width="1"/>
<line x1="455.0" y1="180.9" x2="455.0" y2="187.3" stroke="#a81c1c" stroke-width="1"/>
<line x1="462.1" y1="180.2" x2="462.1" y2="186.6" stroke="#a81c1c" stroke-width="1"/>
<line x1="469.1" y1="180.0" x2="469.1" y2="186.4" stroke="#a81c1c" stroke-width="1"/>
<line x1="476.1" y1="180.1" x2="476.1" y2="186.5" stroke="#a81c1c" stroke-width="1"/>
<line x1="483.2" y1="180.2" x2="483.2" y2="186.6" stroke="#a81c1c" stroke-width="1"/>
<line x1="490.2" y1="180.5" x2="490.2" y2="186.9" stroke="#a81c1c" stroke-width="1"/>
<line x1="497.2" y1="180.9" x2="497.2" y2="187.3" stroke="#a81c1c" stroke-width="1"/>
<line x1="504.3" y1="181.3" x2="504.3" y2="187.7" stroke="#a81c1c" stroke-width="1"/>
<line x1="511.3" y1="181.9" x2="511.3" y2="188.3" stroke="#a81c1c" stroke-width="1"/>
<line x1="518.4" y1="182.7" x2="518.4" y2="189.1" stroke="#a81c1c" stroke-width="1"/>
<line x1="525.4" y1="183.3" x2="525.4" y2="190.6" stroke="#a81c1c" stroke-width="1"/>
<line x1="532.4" y1="184.5" x2="532.4" y2="192.8" stroke="#a81c1c" stroke-width="1"/>
<line x1="539.5" y1="186.9" x2="539.5" y2="196.3" stroke="#a81c1c" stroke-width="1"/>
<line x1="546.5" y1="189.6" x2="546.5" y2="200.0" stroke="#a81c1c" stroke-width="1"/>
<line x1="553.5" y1="190.5" x2="553.5" y2="201.9" stroke="#a81c1c" stroke-width="1"/>
<line x1="560.6" y1="191.3" x2="560.6" y2="203.8" stroke="#a81c1c" stroke-width="1"/>
<line x1="567.6" y1="191.8" x2="567.6" y2="205.3" stroke="#a81c1c" stroke-width="1"/>
<line x1="574.6" y1="192.1" x2="574.6" y2="206.7" stroke="#a81c1c" stroke-width="1"/>
<line x1="581.7" y1="192.4" x2="581.7" y2="208.1" stroke="#a81c1c" stroke-width="1"/>
<line x1="588.7" y1="192.4" x2="588.7" y2="209.1" stroke="#a81c1c" stroke-width="1"/>
<line x1="595.8" y1="191.6" x2="595.8" y2="209.4" stroke="#a81c1c" stroke-width="1"/>
<line x1="602.8" y1="189.7" x2="602.8" y2="208.1" stroke="#a81c1c" stroke-width="1"/>
<line x1="609.8" y1="187.3" x2="609.8" y2="205.7" stroke="#a81c1c" stroke-width="1"/>
<line x1="616.9" y1="184.9" x2="616.9" y2="203.3" stroke="#a81c1c" stroke-width="1"/>
<line x1="623.9" y1="183.0" x2="623.9" y2="201.4" stroke="#a81c1c" stroke-width="1"/>
<line x1="630.9" y1="181.3" x2="630.9" y2="199.7" stroke="#a81c1c" stroke-width="1"/>
<line x1="638.0" y1="180.5" x2="638.0" y2="198.9" stroke="#a81c1c" stroke-width="1"/>
<line x1="645.0" y1="182.8" x2="645.0" y2="201.3" stroke="#a81c1c" stroke-width="1"/>
<line x1="652.1" y1="185.9" x2="652.1" y2="204.6" stroke="#a81c1c" stroke-width="1"/>
<line x1="659.1" y1="187.7" x2="659.1" y2="206.6" stroke="#a81c1c" stroke-width="1"/>
<line x1="666.1" y1="189.2" x2="666.1" y2="208.3" stroke="#a81c1c" stroke-width="1"/>
<line x1="673.2" y1="190.6" x2="673.2" y2="209.9" stroke="#a81c1c" stroke-width="1"/>
<line x1="680.2" y1="191.9" x2="680.2" y2="211.4" stroke="#a81c1c" stroke-width="1"/>
<line x1="687.2" y1="193.1" x2="687.2" y2="212.7" stroke="#a81c1c" stroke-width="1"/>
<line x1="694.3" y1="193.9" x2="694.3" y2="213.7" stroke="#a81c1c" stroke-width="1"/>
<line x1="701.3" y1="194.6" x2="701.3" y2="214.5" stroke="#a81c1c" stroke-width="1"/>
<line x1="708.4" y1="195.1" x2="708.4" y2="215.3" stroke="#a81c1c" stroke-width="1"/>
<line x1="715.4" y1="195.7" x2="715.4" y2="216.0" stroke="#a81c1c" stroke-width="1"/>
<line x1="722.4" y1="196.2" x2="722.4" y2="216.7" stroke="#a81c1c" stroke-width="1"/>
<line x1="729.5" y1="196.8" x2="729.5" y2="217.5" stroke="#a81c1c" stroke-width="1"/>
<line x1="736.5" y1="197.5" x2="736.5" y2="218.4" stroke="#a81c1c" stroke-width="1"/>
<line x1="743.5" y1="198.3" x2="743.5" y2="219.4" stroke="#a81c1c" stroke-width="1"/>
<line x1="750.6" y1="199.1" x2="750.6" y2="220.4" stroke="#a81c1c" stroke-width="1"/>
<path d="M343.0,189.1 C345.3,188.7 350.7,186.8 356.6,186.5 C362.5,186.2 370.3,187.3 378.4,187.3 C386.5,187.3 397.4,186.1 405.3,186.3 C413.2,186.5 418.4,188.6 425.8,188.3 C433.2,188.0 442.8,185.5 450.0,184.7 C457.2,183.8 460.3,183.2 469.3,183.2 C478.3,183.2 493.9,183.7 503.9,184.5 C513.9,185.3 522.7,186.2 529.5,187.8 C536.3,189.4 541.5,192.9 544.9,194.2 C548.3,195.5 546.2,194.8 550.0,195.5 C553.8,196.2 560.4,197.8 567.9,198.6 C575.4,199.4 586.7,201.3 594.8,200.6 C602.9,199.9 610.0,196.0 616.6,194.2 C623.2,192.4 630.2,190.4 634.5,189.9 C638.8,189.4 639.2,190.0 642.2,190.9 C645.2,191.8 647.3,193.9 652.4,195.5 C657.5,197.1 666.1,199.1 672.9,200.6 C679.7,202.1 684.0,203.1 693.4,204.4 C702.8,205.7 718.7,207.0 729.3,208.3 C739.9,209.6 752.4,211.5 757.0,212.1" fill="none" stroke="#ff0000" stroke-width="2.6" stroke-linejoin="round"/>
<path d="M343.0,218.5 C345.3,218.1 350.8,215.6 356.6,216.0 C362.4,216.4 369.9,220.8 378.0,221.1 C386.1,221.4 398.4,217.9 405.3,218.0 C412.2,218.1 413.4,221.3 419.4,221.6 C425.4,221.9 435.4,221.0 441.2,219.8 C447.0,218.7 449.3,215.7 454.0,214.7 C458.7,213.7 461.8,213.8 469.3,213.9 C476.8,214.0 490.7,214.2 499.0,215.5 C507.3,216.8 513.5,220.8 519.0,221.9 C524.5,223.1 526.8,221.2 532.0,222.4 C537.2,223.6 544.0,227.0 550.0,229.3 C556.0,231.6 560.4,234.7 567.9,236.0 C575.4,237.3 586.7,238.6 594.8,237.2 C602.9,235.8 609.5,230.2 616.6,227.5 C623.7,224.8 631.1,221.1 637.1,221.1 C643.1,221.1 648.1,226.1 652.4,227.5 C656.7,228.9 657.6,228.4 662.7,229.5 C667.8,230.6 674.2,232.3 683.2,233.9 C692.2,235.5 704.2,237.3 716.5,239.0 C728.8,240.7 750.2,243.2 757.0,244.1" fill="none" stroke="#0000ff" stroke-width="2.6" stroke-linejoin="round"/>
<circle cx="349.5" cy="198.6" r="1.75" fill="#6a5acd"/>
<circle cx="356.5" cy="197.5" r="1.75" fill="#6a5acd"/>
<circle cx="363.5" cy="198.0" r="1.75" fill="#6a5acd"/>
<circle cx="370.5" cy="199.6" r="1.75" fill="#6a5acd"/>
<circle cx="377.5" cy="199.8" r="1.75" fill="#6a5acd"/>
<circle cx="384.5" cy="199.1" r="1.75" fill="#6a5acd"/>
<circle cx="391.5" cy="198.8" r="1.75" fill="#6a5acd"/>
<circle cx="398.5" cy="198.0" r="1.75" fill="#6a5acd"/>
<circle cx="405.5" cy="197.0" r="1.75" fill="#6a5acd"/>
<circle cx="412.5" cy="198.6" r="1.75" fill="#6a5acd"/>
<circle cx="419.5" cy="199.8" r="1.75" fill="#6a5acd"/>
<circle cx="426.5" cy="200.9" r="1.75" fill="#6a5acd"/>
<circle cx="433.5" cy="200.4" r="1.75" fill="#6a5acd"/>
<circle cx="440.5" cy="199.8" r="1.75" fill="#6a5acd"/>
<circle cx="447.5" cy="198.8" r="1.75" fill="#6a5acd"/>
<circle cx="454.5" cy="199.6" r="1.75" fill="#6a5acd"/>
<circle cx="461.5" cy="198.6" r="1.75" fill="#6a5acd"/>
<circle cx="468.5" cy="197.0" r="1.75" fill="#6a5acd"/>
<circle cx="475.5" cy="196.3" r="1.75" fill="#6a5acd"/>
<circle cx="482.5" cy="196.5" r="1.75" fill="#6a5acd"/>
<circle cx="489.6" cy="195.5" r="1.75" fill="#6a5acd"/>
<circle cx="496.6" cy="195.5" r="1.75" fill="#6a5acd"/>
<circle cx="503.6" cy="195.0" r="1.75" fill="#6a5acd"/>
<circle cx="510.6" cy="197.0" r="1.75" fill="#6a5acd"/>
<circle cx="517.6" cy="197.3" r="1.75" fill="#6a5acd"/>
<circle cx="524.6" cy="199.1" r="1.75" fill="#6a5acd"/>
<circle cx="531.6" cy="200.1" r="1.75" fill="#6a5acd"/>
<circle cx="538.6" cy="203.2" r="1.75" fill="#6a5acd"/>
<circle cx="545.6" cy="206.8" r="1.75" fill="#6a5acd"/>
<circle cx="553.1" cy="208.3" r="1.75" fill="#6a5acd"/>
<circle cx="560.1" cy="210.1" r="1.75" fill="#6a5acd"/>
<circle cx="567.1" cy="212.9" r="1.75" fill="#6a5acd"/>
<circle cx="574.1" cy="214.7" r="1.75" fill="#6a5acd"/>
<circle cx="581.1" cy="216.5" r="1.75" fill="#6a5acd"/>
<circle cx="588.1" cy="218.0" r="1.75" fill="#6a5acd"/>
<circle cx="595.1" cy="219.0" r="1.75" fill="#6a5acd"/>
<circle cx="602.1" cy="218.0" r="1.75" fill="#6a5acd"/>
<circle cx="609.1" cy="216.7" r="1.75" fill="#6a5acd"/>
<circle cx="616.1" cy="215.5" r="1.75" fill="#6a5acd"/>
<circle cx="623.1" cy="214.2" r="1.75" fill="#6a5acd"/>
<circle cx="630.1" cy="212.9" r="1.75" fill="#6a5acd"/>
<circle cx="637.1" cy="211.6" r="1.75" fill="#6a5acd"/>
<circle cx="644.1" cy="212.1" r="1.75" fill="#6a5acd"/>
<circle cx="651.1" cy="214.7" r="1.75" fill="#6a5acd"/>
<circle cx="658.1" cy="216.0" r="1.75" fill="#6a5acd"/>
<circle cx="665.1" cy="217.3" r="1.75" fill="#6a5acd"/>
<circle cx="672.1" cy="216.0" r="1.75" fill="#6a5acd"/>
<circle cx="679.1" cy="216.0" r="1.75" fill="#6a5acd"/>
<circle cx="686.1" cy="216.5" r="1.75" fill="#6a5acd"/>
<circle cx="693.1" cy="217.3" r="1.75" fill="#6a5acd"/>
<circle cx="700.2" cy="218.0" r="1.75" fill="#6a5acd"/>
<circle cx="707.2" cy="219.0" r="1.75" fill="#6a5acd"/>
<circle cx="714.2" cy="219.0" r="1.75" fill="#6a5acd"/>
<circle cx="721.2" cy="219.0" r="1.75" fill="#6a5acd"/>
<circle cx="728.2" cy="219.3" r="1.75" fill="#6a5acd"/>
<circle cx="735.2" cy="220.6" r="1.75" fill="#6a5acd"/>
<circle cx="742.2" cy="221.1" r="1.75" fill="#6a5acd"/>
<circle cx="749.2" cy="222.1" r="1.75" fill="#6a5acd"/>
<rect x="342.5" y="177.5" width="415" height="78" fill="none" stroke="#000" stroke-width="1"/>
<text x="337.5" y="196.70000000000002" font-size="10.8" fill="#000" text-anchor="end" font-weight="normal" >-10</text>
<text x="761.5" y="196.70000000000002" font-size="10.8" fill="#000" text-anchor="start" font-weight="normal" >-10</text>
<text x="337.5" y="218.9" font-size="10.8" fill="#000" text-anchor="end" font-weight="normal" >-15</text>
<text x="761.5" y="218.9" font-size="10.8" fill="#000" text-anchor="start" font-weight="normal" >-15</text>
<text x="337.5" y="241.10000000000002" font-size="10.8" fill="#000" text-anchor="end" font-weight="normal" >-20</text>
<text x="761.5" y="241.10000000000002" font-size="10.8" fill="#000" text-anchor="start" font-weight="normal" >-20</text>
<text x="0" y="0" transform="translate(290,215.5) rotate(-90)" font-size="12.2" fill="#00008b" text-anchor="middle" dominant-baseline="central">temperatura</text>
<text x="0" y="0" transform="translate(303,215.5) rotate(-90)" font-size="12.2" fill="#00008b" text-anchor="middle" dominant-baseline="central">(°C)</text>
<text x="0" y="0" transform="translate(799,215.5) rotate(-90)" font-size="12.2" fill="#00008b" text-anchor="middle" dominant-baseline="central">(°C)</text>
<text x="0" y="0" transform="translate(811,215.5) rotate(-90)" font-size="12.2" fill="#00008b" text-anchor="middle" dominant-baseline="central">temperatura</text>
<rect x="343" y="263" width="414" height="79" fill="#e6e6e6"/>
<rect x="423" y="263" width="61.0" height="79" fill="#ffffff"/>
<rect x="592" y="263" width="60.5" height="79" fill="#ffffff"/>
<line x1="343" y1="266.5" x2="757" y2="266.5" stroke="#000" stroke-width="1" stroke-dasharray="2,2"/>
<line x1="343" y1="281.5" x2="757" y2="281.5" stroke="#000" stroke-width="1" stroke-dasharray="2,2"/>
<line x1="343" y1="296.5" x2="757" y2="296.5" stroke="#000" stroke-width="1" stroke-dasharray="2,2"/>
<line x1="343" y1="311.5" x2="757" y2="311.5" stroke="#000" stroke-width="1" stroke-dasharray="2,2"/>
<line x1="343" y1="326.5" x2="757" y2="326.5" stroke="#000" stroke-width="1" stroke-dasharray="2,2"/>
<line x1="356.5" y1="263" x2="356.5" y2="342" stroke="#000" stroke-width="1" stroke-dasharray="2,2"/>
<line x1="377.5" y1="263" x2="377.5" y2="342" stroke="#000" stroke-width="1" stroke-dasharray="2,2"/>
<line x1="398.5" y1="263" x2="398.5" y2="342" stroke="#000" stroke-width="1" stroke-dasharray="2,2"/>
<line x1="419.5" y1="263" x2="419.5" y2="342" stroke="#000" stroke-width="1" stroke-dasharray="2,2"/>
<line x1="441.5" y1="263" x2="441.5" y2="342" stroke="#000" stroke-width="1" stroke-dasharray="2,2"/>
<line x1="462.5" y1="263" x2="462.5" y2="342" stroke="#000" stroke-width="1" stroke-dasharray="2,2"/>
<line x1="483.5" y1="263" x2="483.5" y2="342" stroke="#000" stroke-width="1" stroke-dasharray="2,2"/>
<line x1="504.5" y1="263" x2="504.5" y2="342" stroke="#000" stroke-width="1" stroke-dasharray="2,2"/>
<line x1="525.5" y1="263" x2="525.5" y2="342" stroke="#000" stroke-width="1" stroke-dasharray="2,2"/>
<line x1="546.5" y1="263" x2="546.5" y2="342" stroke="#000" stroke-width="1" stroke-dasharray="2,2"/>
<line x1="567.5" y1="263" x2="567.5" y2="342" stroke="#000" stroke-width="1" stroke-dasharray="2,2"/>
<line x1="588.5" y1="263" x2="588.5" y2="342" stroke="#000" stroke-width="1" stroke-dasharray="2,2"/>
<line x1="609.5" y1="263" x2="609.5" y2="342" stroke="#000" stroke-width="1" stroke-dasharray="2,2"/>
<line x1="630.5" y1="263" x2="630.5" y2="342" stroke="#000" stroke-width="1" stroke-dasharray="2,2"/>
<line x1="651.5" y1="263" x2="651.5" y2="342" stroke="#000" stroke-width="1" stroke-dasharray="2,2"/>
<line x1="673.5" y1="263" x2="673.5" y2="342" stroke="#000" stroke-width="1" stroke-dasharray="2,2"/>
<line x1="694.5" y1="263" x2="694.5" y2="342" stroke="#000" stroke-width="1" stroke-dasharray="2,2"/>
<line x1="715.5" y1="263" x2="715.5" y2="342" stroke="#000" stroke-width="1" stroke-dasharray="2,2"/>
<line x1="736.5" y1="263" x2="736.5" y2="342" stroke="#000" stroke-width="1" stroke-dasharray="2,2"/>
<line x1="343" y1="340.5" x2="757" y2="340.5" stroke="#008000" stroke-width="1" stroke-dasharray="2,2"/>
<polyline points="343.0,269.5 355.4,271.0 370.7,276.1 396.3,273.6 405.3,272.3 424.5,280.5 447.6,285.6 454.0,290.2 462.4,292.5 478.3,285.6 491.1,279.7 516.7,276.6 529.5,281.0 544.9,279.5 550.0,281.0 567.9,292.0 594.8,305.3 608.9,317.6 624.3,324.5 637.1,320.2 652.4,308.1 662.7,305.6 675.5,297.1 688.3,291.2 703.6,287.7 716.5,283.8 729.3,280.0 744.6,280.5 757.0,281.0" fill="none" stroke="#e8501e" stroke-width="2.2" stroke-linejoin="round"/>
<rect x="342.5" y="263.5" width="415" height="78" fill="none" stroke="#000" stroke-width="1"/>
<text x="337.5" y="271.4" font-size="10.8" fill="#000" text-anchor="end" font-weight="normal" >5</text>
<text x="337.5" y="286.4" font-size="10.8" fill="#000" text-anchor="end" font-weight="normal" >4</text>
<text x="337.5" y="301.4" font-size="10.8" fill="#000" text-anchor="end" font-weight="normal" >3</text>
<text x="337.5" y="316.4" font-size="10.8" fill="#000" text-anchor="end" font-weight="normal" >2</text>
<text x="337.5" y="331.4" font-size="10.8" fill="#000" text-anchor="end" font-weight="normal" >1</text>
<text x="337.5" y="346.4" font-size="10.8" fill="#000" text-anchor="end" font-weight="normal" >0</text>
<text x="761.5" y="271.4" font-size="10.8" fill="#e8501e" text-anchor="start" font-weight="normal" >85</text>
<text x="761.5" y="286.4" font-size="10.8" fill="#e8501e" text-anchor="start" font-weight="normal" >80</text>
<text x="761.5" y="301.4" font-size="10.8" fill="#e8501e" text-anchor="start" font-weight="normal" >75</text>
<text x="761.5" y="316.4" font-size="10.8" fill="#e8501e" text-anchor="start" font-weight="normal" >70</text>
<text x="761.5" y="331.4" font-size="10.8" fill="#e8501e" text-anchor="start" font-weight="normal" >65</text>
<text x="761.5" y="346.4" font-size="10.8" fill="#e8501e" text-anchor="start" font-weight="normal" >60</text>
<text x="0" y="0" transform="translate(289.5,304.5) rotate(-90)" font-size="12.2" fill="#00008b" text-anchor="middle" dominant-baseline="central">opad</text>
<text x="0" y="0" transform="translate(302,305) rotate(-90)" font-size="12.2" fill="#00008b" text-anchor="middle" dominant-baseline="central">(mm/h, kg/m²/h)</text>
<text x="0" y="0" transform="translate(798,304.5) rotate(-90)" font-size="12.2" fill="#00008b" text-anchor="middle" dominant-baseline="central">(%)</text>
<text x="0" y="0" transform="translate(811,304) rotate(-90)" font-size="12.2" fill="#00008b" text-anchor="middle" dominant-baseline="central">wilgotność wzgl.</text>
<rect x="343" y="350" width="414" height="79" fill="#e6e6e6"/>
<rect x="423" y="350" width="61.0" height="79" fill="#ffffff"/>
<rect x="592" y="350" width="60.5" height="79" fill="#ffffff"/>
<defs><clipPath id="pclip"><polygon points="343.0,418.4 357.9,415.1 378.4,413.8 398.9,412.5 414.3,410.7 422.0,408.7 442.4,404.3 462.9,404.9 483.4,401.8 506.5,398.4 524.4,394.6 550.0,391.5 565.4,391.5 575.6,389.0 594.8,380.8 614.0,376.7 629.4,378.0 657.6,373.6 678.0,369.0 693.4,365.9 716.5,362.1 736.9,363.4 757.0,359.5 757.0,428.0 343.0,428.0"/></clipPath></defs>
<g clip-path="url(#pclip)">
<rect x="343" y="350" width="14" height="79" fill="#88f000"/>
<rect x="357" y="350" width="21" height="79" fill="#96f000"/>
<rect x="378" y="350" width="20" height="79" fill="#a8f010"/>
<rect x="398" y="350" width="15" height="79" fill="#b8f418"/>
<rect x="413" y="350" width="21" height="79" fill="#c8f420"/>
<rect x="434" y="350" width="21" height="79" fill="#ffff00"/>
<rect x="455" y="350" width="28" height="79" fill="#f8f800"/>
<rect x="483" y="350" width="28" height="79" fill="#ffff00"/>
<rect x="511" y="350" width="20" height="79" fill="#ffe800"/>
<rect x="531" y="350" width="43" height="79" fill="#ffd600"/>
<rect x="574" y="350" width="21" height="79" fill="#ffb800"/>
<rect x="595" y="350" width="64" height="79" fill="#ff8c00"/>
<rect x="659" y="350" width="41" height="79" fill="#ff6a00"/>
<rect x="700" y="350" width="57" height="79" fill="#ff4000"/>
</g>
<line x1="343" y1="362.5" x2="757" y2="362.5" stroke="#000" stroke-width="1" stroke-dasharray="2,2"/>
<line x1="343" y1="383.5" x2="757" y2="383.5" stroke="#000" stroke-width="1" stroke-dasharray="2,2"/>
<line x1="343" y1="404.5" x2="757" y2="404.5" stroke="#000" stroke-width="1" stroke-dasharray="2,2"/>
<line x1="343" y1="424.5" x2="757" y2="424.5" stroke="#000" stroke-width="1" stroke-dasharray="2,2"/>
<line x1="356.5" y1="350" x2="356.5" y2="429" stroke="#000" stroke-width="1" stroke-dasharray="2,2"/>
<line x1="377.5" y1="350" x2="377.5" y2="429" stroke="#000" stroke-width="1" stroke-dasharray="2,2"/>
<line x1="398.5" y1="350" x2="398.5" y2="429" stroke="#000" stroke-width="1" stroke-dasharray="2,2"/>
<line x1="419.5" y1="350" x2="419.5" y2="429" stroke="#000" stroke-width="1" stroke-dasharray="2,2"/>
<line x1="441.5" y1="350" x2="441.5" y2="429" stroke="#000" stroke-width="1" stroke-dasharray="2,2"/>
<line x1="462.5" y1="350" x2="462.5" y2="429" stroke="#000" stroke-width="1" stroke-dasharray="2,2"/>
<line x1="483.5" y1="350" x2="483.5" y2="429" stroke="#000" stroke-width="1" stroke-dasharray="2,2"/>
<line x1="504.5" y1="350" x2="504.5" y2="429" stroke="#000" stroke-width="1" stroke-dasharray="2,2"/>
<line x1="525.5" y1="350" x2="525.5" y2="429" stroke="#000" stroke-width="1" stroke-dasharray="2,2"/>
<line x1="546.5" y1="350" x2="546.5" y2="429" stroke="#000" stroke-width="1" stroke-dasharray="2,2"/>
<line x1="567.5" y1="350" x2="567.5" y2="429" stroke="#000" stroke-width="1" stroke-dasharray="2,2"/>
<line x1="588.5" y1="350" x2="588.5" y2="429" stroke="#000" stroke-width="1" stroke-dasharray="2,2"/>
<line x1="609.5" y1="350" x2="609.5" y2="429" stroke="#000" stroke-width="1" stroke-dasharray="2,2"/>
<line x1="630.5" y1="350" x2="630.5" y2="429" stroke="#000" stroke-width="1" stroke-dasharray="2,2"/>
<line x1="651.5" y1="350" x2="651.5" y2="429" stroke="#000" stroke-width="1" stroke-dasharray="2,2"/>
<line x1="673.5" y1="350" x2="673.5" y2="429" stroke="#000" stroke-width="1" stroke-dasharray="2,2"/>
<line x1="694.5" y1="350" x2="694.5" y2="429" stroke="#000" stroke-width="1" stroke-dasharray="2,2"/>
<line x1="715.5" y1="350" x2="715.5" y2="429" stroke="#000" stroke-width="1" stroke-dasharray="2,2"/>
<line x1="736.5" y1="350" x2="736.5" y2="429" stroke="#000" stroke-width="1" stroke-dasharray="2,2"/>
<polyline points="343.0,418.4 357.9,415.1 378.4,413.8 398.9,412.5 414.3,410.7 422.0,408.7 442.4,404.3 462.9,404.9 483.4,401.8 506.5,398.4 524.4,394.6 550.0,391.5 565.4,391.5 575.6,389.0 594.8,380.8 614.0,376.7 629.4,378.0 657.6,373.6 678.0,369.0 693.4,365.9 716.5,362.1 736.9,363.4 757.0,359.5" fill="none" stroke="#000" stroke-width="2" stroke-linejoin="round"/>
<rect x="342.5" y="350.5" width="415" height="78" fill="none" stroke="#000" stroke-width="1"/>
<text x="337.5" y="366.9" font-size="10.8" fill="#000" text-anchor="end" font-weight="normal" >1025</text>
<text x="337.5" y="387.7" font-size="10.8" fill="#000" text-anchor="end" font-weight="normal" >1020</text>
<text x="337.5" y="408.4" font-size="10.8" fill="#000" text-anchor="end" font-weight="normal" >1015</text>
<text x="337.5" y="429.09999999999997" font-size="10.8" fill="#000" text-anchor="end" font-weight="normal" >1010</text>
<text x="761.5" y="366.9" font-size="10.8" fill="#000" text-anchor="start" font-weight="normal" >769</text>
<text x="761.5" y="387.7" font-size="10.8" fill="#000" text-anchor="start" font-weight="normal" >765</text>
<text x="761.5" y="408.4" font-size="10.8" fill="#000" text-anchor="start" font-weight="normal" >761</text>
<text x="761.5" y="429.09999999999997" font-size="10.8" fill="#000" text-anchor="start" font-weight="normal" >758</text>
<text x="0" y="0" transform="translate(290,392.8) rotate(-90)" font-size="12.2" fill="#00008b" text-anchor="middle" dominant-baseline="central">ciśnienie</text>
<text x="0" y="0" transform="translate(303,392.5) rotate(-90)" font-size="12.2" fill="#00008b" text-anchor="middle" dominant-baseline="central">(hPa)</text>
<text x="0" y="0" transform="translate(798,393.5) rotate(-90)" font-size="12.2" fill="#00008b" text-anchor="middle" dominant-baseline="central">(mm Hg)</text>
<text x="0" y="0" transform="translate(811,393.3) rotate(-90)" font-size="12.2" fill="#00008b" text-anchor="middle" dominant-baseline="central">ciśnienie</text>
<rect x="343" y="437" width="414" height="79" fill="#e6e6e6"/>
<rect x="423" y="437" width="61.0" height="79" fill="#ffffff"/>
<rect x="592" y="437" width="60.5" height="79" fill="#ffffff"/>
<defs><clipPath id="wclip"><polygon points="343.0,494.4 343.8,494.4 344.9,494.3 346.2,494.2 347.7,494.2 349.2,494.1 350.8,494.0 352.4,493.9 354.0,493.8 355.4,493.6 356.6,493.4 357.7,493.1 358.6,492.8 359.5,492.5 360.3,492.1 361.1,491.7 361.9,491.3 362.8,490.9 363.6,490.5 364.6,490.2 365.6,490.0 366.7,489.8 367.7,489.7 368.8,489.5 369.8,489.4 371.0,489.3 372.2,489.3 373.5,489.3 375.0,489.3 376.6,489.3 378.4,489.3 380.5,489.4 382.9,489.5 385.6,489.7 388.5,489.9 391.4,490.2 394.2,490.4 397.0,490.6 399.7,490.7 402.0,490.8 404.0,490.8 405.6,490.7 407.0,490.5 408.1,490.2 409.1,489.9 410.0,489.6 410.7,489.2 411.5,488.9 412.3,488.6 413.2,488.4 414.3,488.3 415.4,488.3 416.6,488.4 417.7,488.5 418.9,488.7 420.1,488.9 421.3,489.1 422.6,489.3 424.0,489.5 425.5,489.5 427.1,489.5 428.9,489.4 430.9,489.1 433.1,488.8 435.4,488.4 437.7,488.0 440.0,487.6 442.2,487.3 444.2,487.0 446.0,486.8 447.6,486.7 448.8,486.8 449.7,487.0 450.4,487.3 450.9,487.6 451.4,488.0 451.9,488.5 452.4,488.8 453.1,489.2 454.0,489.4 455.2,489.5 456.8,489.5 458.7,489.4 460.8,489.2 463.1,488.9 465.4,488.6 467.8,488.3 470.1,488.0 472.2,487.8 474.1,487.6 475.7,487.5 477.0,487.5 478.0,487.5 478.8,487.6 479.5,487.7 480.0,487.8 480.6,487.9 481.1,488.0 481.7,488.1 482.5,488.2 483.4,488.3 484.5,488.3 485.7,488.4 486.9,488.5 488.3,488.5 489.6,488.5 491.0,488.5 492.4,488.5 493.7,488.5 495.0,488.4 496.2,488.3 497.3,488.1 498.4,487.9 499.4,487.6 500.4,487.3 501.4,486.9 502.3,486.6 503.3,486.2 504.3,485.9 505.4,485.6 506.5,485.4 507.7,485.2 508.8,485.0 510.0,484.8 511.2,484.7 512.4,484.5 513.7,484.4 515.0,484.3 516.4,484.2 517.8,484.2 519.3,484.2 520.9,484.2 522.7,484.3 524.6,484.4 526.6,484.5 528.6,484.7 530.5,484.9 532.4,485.0 534.2,485.3 535.8,485.5 537.2,485.7 538.4,486.0 539.4,486.3 540.3,486.6 541.1,486.9 541.9,487.3 542.5,487.7 543.1,488.0 543.7,488.3 544.3,488.6 544.9,488.8 545.5,489.0 545.9,489.1 546.2,489.3 546.5,489.4 546.8,489.5 547.2,489.6 547.6,489.6 548.2,489.5 549.0,489.5 550.0,489.3 551.3,489.0 552.7,488.6 554.3,488.1 556.1,487.6 558.0,487.0 559.9,486.5 561.9,485.9 563.9,485.5 565.9,485.2 567.9,485.0 569.8,485.0 571.5,485.1 573.3,485.3 575.1,485.6 576.9,485.9 578.8,486.3 580.9,486.6 583.1,487.0 585.6,487.3 588.4,487.5 591.6,487.7 595.1,487.8 599.0,487.9 603.1,488.0 607.3,488.1 611.5,488.2 615.7,488.3 619.7,488.4 623.4,488.6 626.8,488.8 629.9,489.0 632.9,489.3 635.7,489.6 638.5,489.9 641.0,490.3 643.5,490.6 645.9,491.0 648.1,491.3 650.3,491.6 652.4,491.9 654.3,492.2 655.8,492.5 657.1,492.7 658.3,493.0 659.5,493.3 660.7,493.5 662.0,493.8 663.6,494.0 665.5,494.2 667.8,494.4 670.5,494.6 673.4,494.8 676.5,494.9 679.8,495.1 683.3,495.2 687.0,495.3 690.9,495.4 695.0,495.5 699.2,495.6 703.6,495.7 708.5,495.8 714.0,495.8 720.0,495.8 726.3,495.8 732.5,495.8 738.6,495.8 744.4,495.7 749.5,495.7 753.7,495.7 757.0,495.7 757.0,515.0 343.0,515.0"/></clipPath></defs>
<g clip-path="url(#wclip)">
<rect x="343" y="480" width="68.7" height="36" fill="#0a3d8a"/>
<rect x="411.7" y="480" width="43.0" height="36" fill="#007800"/>
<rect x="454.7" y="480" width="7.7" height="36" fill="#0a3d8a"/>
<rect x="462.4" y="480" width="82.5" height="36" fill="#007800"/>
<rect x="544.9" y="480" width="7.7" height="36" fill="#0a3d8a"/>
<rect x="552.6" y="480" width="78.1" height="36" fill="#007800"/>
<rect x="630.7" y="480" width="48.6" height="36" fill="#0a3d8a"/>
<rect x="679.3" y="480" width="77.7" height="36" fill="#0a7cf0"/>
</g>
<line x1="343" y1="438.5" x2="757" y2="438.5" stroke="#000" stroke-width="1" stroke-dasharray="2,2"/>
<line x1="343" y1="464.5" x2="757" y2="464.5" stroke="#000" stroke-width="1" stroke-dasharray="2,2"/>
<line x1="343" y1="489.5" x2="757" y2="489.5" stroke="#000" stroke-width="1" stroke-dasharray="2,2"/>
<line x1="356.5" y1="437" x2="356.5" y2="516" stroke="#000" stroke-width="1" stroke-dasharray="2,2"/>
<line x1="377.5" y1="437" x2="377.5" y2="516" stroke="#000" stroke-width="1" stroke-dasharray="2,2"/>
<line x1="398.5" y1="437" x2="398.5" y2="516" stroke="#000" stroke-width="1" stroke-dasharray="2,2"/>
<line x1="419.5" y1="437" x2="419.5" y2="516" stroke="#000" stroke-width="1" stroke-dasharray="2,2"/>
<line x1="441.5" y1="437" x2="441.5" y2="516" stroke="#000" stroke-width="1" stroke-dasharray="2,2"/>
<line x1="462.5" y1="437" x2="462.5" y2="516" stroke="#000" stroke-width="1" stroke-dasharray="2,2"/>
<line x1="483.5" y1="437" x2="483.5" y2="516" stroke="#000" stroke-width="1" stroke-dasharray="2,2"/>
<line x1="504.5" y1="437" x2="504.5" y2="516" stroke="#000" stroke-width="1" stroke-dasharray="2,2"/>
<line x1="525.5" y1="437" x2="525.5" y2="516" stroke="#000" stroke-width="1" stroke-dasharray="2,2"/>
<line x1="546.5" y1="437" x2="546.5" y2="516" stroke="#000" stroke-width="1" stroke-dasharray="2,2"/>
<line x1="567.5" y1="437" x2="567.5" y2="516" stroke="#000" stroke-width="1" stroke-dasharray="2,2"/>
<line x1="588.5" y1="437" x2="588.5" y2="516" stroke="#000" stroke-width="1" stroke-dasharray="2,2"/>
<line x1="609.5" y1="437" x2="609.5" y2="516" stroke="#000" stroke-width="1" stroke-dasharray="2,2"/>
<line x1="630.5" y1="437" x2="630.5" y2="516" stroke="#000" stroke-width="1" stroke-dasharray="2,2"/>
<line x1="651.5" y1="437" x2="651.5" y2="516" stroke="#000" stroke-width="1" stroke-dasharray="2,2"/>
<line x1="673.5" y1="437" x2="673.5" y2="516" stroke="#000" stroke-width="1" stroke-dasharray="2,2"/>
<line x1="694.5" y1="437" x2="694.5" y2="516" stroke="#000" stroke-width="1" stroke-dasharray="2,2"/>
<line x1="715.5" y1="437" x2="715.5" y2="516" stroke="#000" stroke-width="1" stroke-dasharray="2,2"/>
<line x1="736.5" y1="437" x2="736.5" y2="516" stroke="#000" stroke-width="1" stroke-dasharray="2,2"/>
<path d="M343.0,494.4 C345.3,494.2 352.8,494.1 356.6,493.4 C360.4,492.7 362.0,490.7 365.6,490.0 C369.2,489.3 372.0,489.2 378.4,489.3 C384.8,489.4 398.0,491.0 404.0,490.8 C410.0,490.6 410.4,488.5 414.3,488.3 C418.2,488.1 421.6,489.8 427.1,489.5 C432.7,489.2 442.9,486.7 447.6,486.7 C452.3,486.7 450.5,489.4 455.2,489.5 C459.9,489.6 471.0,487.7 475.7,487.5 C480.4,487.3 480.0,488.2 483.4,488.3 C486.8,488.4 492.3,488.8 496.2,488.3 C500.1,487.8 502.6,486.1 506.5,485.4 C510.4,484.7 514.2,484.1 519.3,484.2 C524.4,484.2 532.9,484.9 537.2,485.7 C541.5,486.5 542.8,488.2 544.9,488.8 C547.0,489.4 546.2,489.9 550.0,489.3 C553.8,488.7 561.5,485.3 567.9,485.0 C574.3,484.7 578.6,486.9 588.4,487.5 C598.2,488.1 616.1,488.1 626.8,488.8 C637.5,489.5 645.6,491.0 652.4,491.9 C659.2,492.8 659.3,493.8 667.8,494.4 C676.3,495.0 688.7,495.5 703.6,495.7 C718.5,495.9 748.1,495.7 757.0,495.7" fill="none" stroke="#0a1e9a" stroke-width="2.2" stroke-linejoin="round"/>
<line x1="342.6" y1="464.5" x2="349.0" y2="464.5" stroke="#ff0000" stroke-width="1"/>
<line x1="349.0" y1="461.5" x2="356.6" y2="461.5" stroke="#ff0000" stroke-width="1"/>
<line x1="356.6" y1="458.5" x2="370.7" y2="458.5" stroke="#ff0000" stroke-width="1"/>
<line x1="370.7" y1="457.5" x2="378.4" y2="457.5" stroke="#ff0000" stroke-width="1"/>
<line x1="378.4" y1="459.5" x2="393.8" y2="459.5" stroke="#ff0000" stroke-width="1"/>
<line x1="393.8" y1="459.5" x2="398.9" y2="459.5" stroke="#ff0000" stroke-width="1"/>
<line x1="398.9" y1="458.5" x2="406.6" y2="458.5" stroke="#ff0000" stroke-width="1"/>
<line x1="406.6" y1="455.5" x2="414.3" y2="455.5" stroke="#ff0000" stroke-width="1"/>
<line x1="414.3" y1="455.5" x2="427.1" y2="455.5" stroke="#ff0000" stroke-width="1"/>
<line x1="427.1" y1="454.5" x2="441.2" y2="454.5" stroke="#ff0000" stroke-width="1"/>
<line x1="441.2" y1="450.5" x2="455.2" y2="450.5" stroke="#ff0000" stroke-width="1"/>
<line x1="455.2" y1="454.5" x2="478.3" y2="454.5" stroke="#ff0000" stroke-width="1"/>
<line x1="478.3" y1="454.5" x2="483.4" y2="454.5" stroke="#ff0000" stroke-width="1"/>
<line x1="483.4" y1="452.5" x2="491.1" y2="452.5" stroke="#ff0000" stroke-width="1"/>
<line x1="491.1" y1="449.5" x2="503.9" y2="449.5" stroke="#ff0000" stroke-width="1"/>
<line x1="503.9" y1="446.5" x2="519.3" y2="446.5" stroke="#ff0000" stroke-width="1"/>
<line x1="519.3" y1="447.5" x2="524.4" y2="447.5" stroke="#ff0000" stroke-width="1"/>
<line x1="524.4" y1="450.5" x2="534.6" y2="450.5" stroke="#ff0000" stroke-width="1"/>
<line x1="534.6" y1="452.5" x2="544.9" y2="452.5" stroke="#ff0000" stroke-width="1"/>
<line x1="544.9" y1="455.5" x2="550.0" y2="455.5" stroke="#ff0000" stroke-width="1"/>
<line x1="550.0" y1="455.5" x2="553.8" y2="455.5" stroke="#ff0000" stroke-width="1"/>
<line x1="553.8" y1="451.5" x2="560.2" y2="451.5" stroke="#ff0000" stroke-width="1"/>
<line x1="560.2" y1="449.5" x2="567.9" y2="449.5" stroke="#ff0000" stroke-width="1"/>
<line x1="567.9" y1="448.5" x2="580.7" y2="448.5" stroke="#ff0000" stroke-width="1"/>
<line x1="580.7" y1="453.5" x2="588.4" y2="453.5" stroke="#ff0000" stroke-width="1"/>
<line x1="588.4" y1="457.5" x2="596.1" y2="457.5" stroke="#ff0000" stroke-width="1"/>
<line x1="596.1" y1="458.5" x2="608.9" y2="458.5" stroke="#ff0000" stroke-width="1"/>
<line x1="608.9" y1="459.5" x2="624.3" y2="459.5" stroke="#ff0000" stroke-width="1"/>
<line x1="624.3" y1="463.5" x2="637.1" y2="463.5" stroke="#ff0000" stroke-width="1"/>
<line x1="637.1" y1="467.5" x2="644.8" y2="467.5" stroke="#ff0000" stroke-width="1"/>
<line x1="644.8" y1="469.5" x2="665.2" y2="469.5" stroke="#ff0000" stroke-width="1"/>
<line x1="665.2" y1="470.5" x2="678.0" y2="470.5" stroke="#ff0000" stroke-width="1"/>
<line x1="678.0" y1="469.5" x2="693.4" y2="469.5" stroke="#ff0000" stroke-width="1"/>
<line x1="693.4" y1="469.5" x2="708.8" y2="469.5" stroke="#ff0000" stroke-width="1"/>
<line x1="708.8" y1="471.5" x2="729.3" y2="471.5" stroke="#ff0000" stroke-width="1"/>
<line x1="729.3" y1="472.5" x2="744.6" y2="472.5" stroke="#ff0000" stroke-width="1"/>
<line x1="744.6" y1="473.5" x2="757.0" y2="473.5" stroke="#ff0000" stroke-width="1"/>
<rect x="342.5" y="437.5" width="415" height="78" fill="none" stroke="#000" stroke-width="1"/>
<text x="337.5" y="443.9" font-size="10.8" fill="#000" text-anchor="end" font-weight="normal" >15</text>
<text x="337.5" y="468.9" font-size="10.8" fill="#000" text-anchor="end" font-weight="normal" >10</text>
<text x="337.5" y="494.2" font-size="10.8" fill="#000" text-anchor="end" font-weight="normal" >5</text>
<text x="337.5" y="519.1999999999999" font-size="10.8" fill="#000" text-anchor="end" font-weight="normal" >0</text>
<text x="767.5" y="443.9" font-size="10.8" fill="#000" text-anchor="middle" font-weight="normal" >54</text>
<text x="767.5" y="468.9" font-size="10.8" fill="#000" text-anchor="middle" font-weight="normal" >36</text>
<text x="767.5" y="494.2" font-size="10.8" fill="#000" text-anchor="middle" font-weight="normal" >18</text>
<text x="767.5" y="519.1999999999999" font-size="10.8" fill="#000" text-anchor="middle" font-weight="normal" >0</text>
<text x="0" y="0" transform="translate(290,482) rotate(-90)" font-size="12.2" fill="#00008b" text-anchor="middle" dominant-baseline="central">wiatr</text>
<text x="0" y="0" transform="translate(303,482.5) rotate(-90)" font-size="12.2" fill="#00008b" text-anchor="middle" dominant-baseline="central">(m/s)</text>
<text x="0" y="0" transform="translate(798,482.5) rotate(-90)" font-size="12.2" fill="#00008b" text-anchor="middle" dominant-baseline="central">(km/h)</text>
<text x="0" y="0" transform="translate(811,482) rotate(-90)" font-size="12.2" fill="#00008b" text-anchor="middle" dominant-baseline="central">wiatr</text>
<rect x="343" y="521" width="414" height="31" fill="#e6e6e6"/>
<rect x="423" y="521" width="61.0" height="31" fill="#ffffff"/>
<rect x="592" y="521" width="60.5" height="31" fill="#ffffff"/>
<line x1="356.5" y1="521" x2="356.5" y2="552" stroke="#000" stroke-width="1" stroke-dasharray="2,2"/>
<line x1="377.5" y1="521" x2="377.5" y2="552" stroke="#000" stroke-width="1" stroke-dasharray="2,2"/>
<line x1="398.5" y1="521" x2="398.5" y2="552" stroke="#000" stroke-width="1" stroke-dasharray="2,2"/>
<line x1="419.5" y1="521" x2="419.5" y2="552" stroke="#000" stroke-width="1" stroke-dasharray="2,2"/>
<line x1="441.5" y1="521" x2="441.5" y2="552" stroke="#000" stroke-width="1" stroke-dasharray="2,2"/>
<line x1="462.5" y1="521" x2="462.5" y2="552" stroke="#000" stroke-width="1" stroke-dasharray="2,2"/>
<line x1="483.5" y1="521" x2="483.5" y2="552" stroke="#000" stroke-width="1" stroke-dasharray="2,2"/>
<line x1="504.5" y1="521" x2="504.5" y2="552" stroke="#000" stroke-width="1" stroke-dasharray="2,2"/>
<line x1="525.5" y1="521" x2="525.5" y2="552" stroke="#000" stroke-width="1" stroke-dasharray="2,2"/>
<line x1="546.5" y1="521" x2="546.5" y2="552" stroke="#000" stroke-width="1" stroke-dasharray="2,2"/>
<line x1="567.5" y1="521" x2="567.5" y2="552" stroke="#000" stroke-width="1" stroke-dasharray="2,2"/>
<line x1="588.5" y1="521" x2="588.5" y2="552" stroke="#000" stroke-width="1" stroke-dasharray="2,2"/>
<line x1="609.5" y1="521" x2="609.5" y2="552" stroke="#000" stroke-width="1" stroke-dasharray="2,2"/>
<line x1="630.5" y1="521" x2="630.5" y2="552" stroke="#000" stroke-width="1" stroke-dasharray="2,2"/>
<line x1="651.5" y1="521" x2="651.5" y2="552" stroke="#000" stroke-width="1" stroke-dasharray="2,2"/>
<line x1="673.5" y1="521" x2="673.5" y2="552" stroke="#000" stroke-width="1" stroke-dasharray="2,2"/>
<line x1="694.5" y1="521" x2="694.5" y2="552" stroke="#000" stroke-width="1" stroke-dasharray="2,2"/>
<line x1="715.5" y1="521" x2="715.5" y2="552" stroke="#000" stroke-width="1" stroke-dasharray="2,2"/>
<line x1="736.5" y1="521" x2="736.5" y2="552" stroke="#000" stroke-width="1" stroke-dasharray="2,2"/>
<line x1="545" y1="537" x2="764" y2="537" stroke="#10109a" stroke-width="1.3"/>
<line x1="345.5" y1="535.3" x2="339.3" y2="538.7" stroke="#10109a" stroke-width="1.6"/>
<polygon points="339.3,538.7 342.5,534.0 345.0,538.6" fill="#10109a"/>
<line x1="352.6" y1="535.5" x2="346.3" y2="538.5" stroke="#10109a" stroke-width="1.6"/>
<polygon points="346.3,538.5 349.7,534.0 352.0,538.7" fill="#10109a"/>
<line x1="359.7" y1="535.6" x2="353.3" y2="538.4" stroke="#10109a" stroke-width="1.6"/>
<polygon points="353.3,538.4 356.8,534.0 358.9,538.8" fill="#10109a"/>
<line x1="366.8" y1="535.7" x2="360.3" y2="538.3" stroke="#10109a" stroke-width="1.6"/>
<polygon points="360.3,538.3 364.0,534.0 365.9,538.9" fill="#10109a"/>
<line x1="373.9" y1="535.8" x2="367.3" y2="538.2" stroke="#10109a" stroke-width="1.6"/>
<polygon points="367.3,538.2 371.1,534.0 372.9,539.0" fill="#10109a"/>
<line x1="381.0" y1="536.0" x2="374.3" y2="538.0" stroke="#10109a" stroke-width="1.6"/>
<polygon points="374.3,538.0 378.3,534.1 379.8,539.0" fill="#10109a"/>
<line x1="388.0" y1="536.1" x2="381.3" y2="537.9" stroke="#10109a" stroke-width="1.6"/>
<polygon points="381.3,537.9 385.4,534.1 386.8,539.1" fill="#10109a"/>
<line x1="395.1" y1="536.2" x2="388.3" y2="537.8" stroke="#10109a" stroke-width="1.6"/>
<polygon points="388.3,537.8 392.6,534.1 393.7,539.2" fill="#10109a"/>
<line x1="402.2" y1="536.4" x2="395.3" y2="537.6" stroke="#10109a" stroke-width="1.6"/>
<polygon points="395.3,537.6 399.7,534.2 400.7,539.3" fill="#10109a"/>
<line x1="409.2" y1="536.5" x2="402.3" y2="537.5" stroke="#10109a" stroke-width="1.6"/>
<polygon points="402.3,537.5 406.9,534.2 407.6,539.4" fill="#10109a"/>
<line x1="416.3" y1="536.6" x2="409.3" y2="537.4" stroke="#10109a" stroke-width="1.6"/>
<polygon points="409.3,537.4 414.0,534.3 414.6,539.4" fill="#10109a"/>
<line x1="423.3" y1="536.7" x2="416.3" y2="537.3" stroke="#10109a" stroke-width="1.6"/>
<polygon points="416.3,537.3 421.1,534.3 421.5,539.5" fill="#10109a"/>
<line x1="430.4" y1="536.9" x2="423.4" y2="537.1" stroke="#10109a" stroke-width="1.6"/>
<polygon points="423.4,537.1 428.3,534.4 428.5,539.5" fill="#10109a"/>
<line x1="437.4" y1="537.0" x2="430.4" y2="537.0" stroke="#10109a" stroke-width="1.6"/>
<polygon points="430.4,537.0 435.4,534.4 435.4,539.6" fill="#10109a"/>
<line x1="444.4" y1="537.0" x2="437.4" y2="537.0" stroke="#10109a" stroke-width="1.6"/>
<polygon points="437.4,537.0 442.4,534.4 442.4,539.6" fill="#10109a"/>
<line x1="451.5" y1="537.0" x2="444.5" y2="537.0" stroke="#10109a" stroke-width="1.6"/>
<polygon points="444.5,537.0 449.5,534.4 449.5,539.6" fill="#10109a"/>
<line x1="458.5" y1="537.0" x2="451.5" y2="537.0" stroke="#10109a" stroke-width="1.6"/>
<polygon points="451.5,537.0 456.5,534.4 456.5,539.6" fill="#10109a"/>
<line x1="465.6" y1="537.0" x2="458.6" y2="537.0" stroke="#10109a" stroke-width="1.6"/>
<polygon points="458.6,537.0 463.6,534.4 463.6,539.6" fill="#10109a"/>
<line x1="472.6" y1="537.0" x2="465.6" y2="537.0" stroke="#10109a" stroke-width="1.6"/>
<polygon points="465.6,537.0 470.6,534.4 470.6,539.6" fill="#10109a"/>
<line x1="479.6" y1="537.0" x2="472.6" y2="537.0" stroke="#10109a" stroke-width="1.6"/>
<polygon points="472.6,537.0 477.6,534.4 477.6,539.6" fill="#10109a"/>
<line x1="486.7" y1="537.0" x2="479.7" y2="537.0" stroke="#10109a" stroke-width="1.6"/>
<polygon points="479.7,537.0 484.7,534.4 484.7,539.6" fill="#10109a"/>
<line x1="493.7" y1="537.0" x2="486.7" y2="537.0" stroke="#10109a" stroke-width="1.6"/>
<polygon points="486.7,537.0 491.7,534.4 491.7,539.6" fill="#10109a"/>
<line x1="500.7" y1="537.0" x2="493.7" y2="537.0" stroke="#10109a" stroke-width="1.6"/>
<polygon points="493.7,537.0 498.7,534.4 498.7,539.6" fill="#10109a"/>
<line x1="507.8" y1="537.0" x2="500.8" y2="537.0" stroke="#10109a" stroke-width="1.6"/>
<polygon points="500.8,537.0 505.8,534.4 505.8,539.6" fill="#10109a"/>
<line x1="514.8" y1="537.0" x2="507.8" y2="537.0" stroke="#10109a" stroke-width="1.6"/>
<polygon points="507.8,537.0 512.8,534.4 512.8,539.6" fill="#10109a"/>
<line x1="521.9" y1="537.0" x2="514.9" y2="537.0" stroke="#10109a" stroke-width="1.6"/>
<polygon points="514.9,537.0 519.9,534.4 519.9,539.6" fill="#10109a"/>
<line x1="528.9" y1="537.0" x2="521.9" y2="537.0" stroke="#10109a" stroke-width="1.6"/>
<polygon points="521.9,537.0 526.9,534.4 526.9,539.6" fill="#10109a"/>
<line x1="535.9" y1="537.0" x2="528.9" y2="537.0" stroke="#10109a" stroke-width="1.6"/>
<polygon points="528.9,537.0 533.9,534.4 533.9,539.6" fill="#10109a"/>
<line x1="543.0" y1="537.0" x2="536.0" y2="537.0" stroke="#10109a" stroke-width="1.6"/>
<polygon points="536.0,537.0 541.0,534.4 541.0,539.6" fill="#10109a"/>
<line x1="550.0" y1="537.0" x2="543.0" y2="537.0" stroke="#10109a" stroke-width="1.6"/>
<polygon points="543.0,537.0 548.0,534.4 548.0,539.6" fill="#10109a"/>
<line x1="557.0" y1="537.0" x2="550.0" y2="537.0" stroke="#10109a" stroke-width="1.6"/>
<polygon points="550.0,537.0 555.0,534.4 555.0,539.6" fill="#10109a"/>
<line x1="564.1" y1="537.0" x2="557.1" y2="537.0" stroke="#10109a" stroke-width="1.6"/>
<polygon points="557.1,537.0 562.1,534.4 562.1,539.6" fill="#10109a"/>
<line x1="571.1" y1="537.0" x2="564.1" y2="537.0" stroke="#10109a" stroke-width="1.6"/>
<polygon points="564.1,537.0 569.1,534.4 569.1,539.6" fill="#10109a"/>
<line x1="578.1" y1="537.0" x2="571.1" y2="537.0" stroke="#10109a" stroke-width="1.6"/>
<polygon points="571.1,537.0 576.1,534.4 576.1,539.6" fill="#10109a"/>
<line x1="585.2" y1="537.0" x2="578.2" y2="537.0" stroke="#10109a" stroke-width="1.6"/>
<polygon points="578.2,537.0 583.2,534.4 583.2,539.6" fill="#10109a"/>
<line x1="592.2" y1="537.0" x2="585.2" y2="537.0" stroke="#10109a" stroke-width="1.6"/>
<polygon points="585.2,537.0 590.2,534.4 590.2,539.6" fill="#10109a"/>
<line x1="599.3" y1="537.0" x2="592.3" y2="537.0" stroke="#10109a" stroke-width="1.6"/>
<polygon points="592.3,537.0 597.3,534.4 597.3,539.6" fill="#10109a"/>
<line x1="606.3" y1="537.0" x2="599.3" y2="537.0" stroke="#10109a" stroke-width="1.6"/>
<polygon points="599.3,537.0 604.3,534.4 604.3,539.6" fill="#10109a"/>
<line x1="613.3" y1="537.0" x2="606.3" y2="537.0" stroke="#10109a" stroke-width="1.6"/>
<polygon points="606.3,537.0 611.3,534.4 611.3,539.6" fill="#10109a"/>
<line x1="620.4" y1="537.0" x2="613.4" y2="537.0" stroke="#10109a" stroke-width="1.6"/>
<polygon points="613.4,537.0 618.4,534.4 618.4,539.6" fill="#10109a"/>
<line x1="627.4" y1="537.0" x2="620.4" y2="537.0" stroke="#10109a" stroke-width="1.6"/>
<polygon points="620.4,537.0 625.4,534.4 625.4,539.6" fill="#10109a"/>
<line x1="634.4" y1="537.0" x2="627.4" y2="537.0" stroke="#10109a" stroke-width="1.6"/>
<polygon points="627.4,537.0 632.4,534.4 632.4,539.6" fill="#10109a"/>
<line x1="641.5" y1="537.0" x2="634.5" y2="537.0" stroke="#10109a" stroke-width="1.6"/>
<polygon points="634.5,537.0 639.5,534.4 639.5,539.6" fill="#10109a"/>
<line x1="648.5" y1="537.0" x2="641.5" y2="537.0" stroke="#10109a" stroke-width="1.6"/>
<polygon points="641.5,537.0 646.5,534.4 646.5,539.6" fill="#10109a"/>
<line x1="655.6" y1="537.0" x2="648.6" y2="537.0" stroke="#10109a" stroke-width="1.6"/>
<polygon points="648.6,537.0 653.6,534.4 653.6,539.6" fill="#10109a"/>
<line x1="662.6" y1="537.0" x2="655.6" y2="537.0" stroke="#10109a" stroke-width="1.6"/>
<polygon points="655.6,537.0 660.6,534.4 660.6,539.6" fill="#10109a"/>
<line x1="669.6" y1="537.0" x2="662.6" y2="537.0" stroke="#10109a" stroke-width="1.6"/>
<polygon points="662.6,537.0 667.6,534.4 667.6,539.6" fill="#10109a"/>
<line x1="676.7" y1="537.0" x2="669.7" y2="537.0" stroke="#10109a" stroke-width="1.6"/>
<polygon points="669.7,537.0 674.7,534.4 674.7,539.6" fill="#10109a"/>
<line x1="683.7" y1="537.0" x2="676.7" y2="537.0" stroke="#10109a" stroke-width="1.6"/>
<polygon points="676.7,537.0 681.7,534.4 681.7,539.6" fill="#10109a"/>
<line x1="690.7" y1="537.0" x2="683.7" y2="537.0" stroke="#10109a" stroke-width="1.6"/>
<polygon points="683.7,537.0 688.7,534.4 688.7,539.6" fill="#10109a"/>
<line x1="697.8" y1="537.0" x2="690.8" y2="537.0" stroke="#10109a" stroke-width="1.6"/>
<polygon points="690.8,537.0 695.8,534.4 695.8,539.6" fill="#10109a"/>
<line x1="704.8" y1="537.0" x2="697.8" y2="537.0" stroke="#10109a" stroke-width="1.6"/>
<polygon points="697.8,537.0 702.8,534.4 702.8,539.6" fill="#10109a"/>
<line x1="711.9" y1="537.0" x2="704.9" y2="537.0" stroke="#10109a" stroke-width="1.6"/>
<polygon points="704.9,537.0 709.9,534.4 709.9,539.6" fill="#10109a"/>
<line x1="718.9" y1="537.0" x2="711.9" y2="537.0" stroke="#10109a" stroke-width="1.6"/>
<polygon points="711.9,537.0 716.9,534.4 716.9,539.6" fill="#10109a"/>
<line x1="725.9" y1="537.0" x2="718.9" y2="537.0" stroke="#10109a" stroke-width="1.6"/>
<polygon points="718.9,537.0 723.9,534.4 723.9,539.6" fill="#10109a"/>
<line x1="733.0" y1="537.0" x2="726.0" y2="537.0" stroke="#10109a" stroke-width="1.6"/>
<polygon points="726.0,537.0 731.0,534.4 731.0,539.6" fill="#10109a"/>
<line x1="740.0" y1="537.0" x2="733.0" y2="537.0" stroke="#10109a" stroke-width="1.6"/>
<polygon points="733.0,537.0 738.0,534.4 738.0,539.6" fill="#10109a"/>
<line x1="747.0" y1="537.0" x2="740.0" y2="537.0" stroke="#10109a" stroke-width="1.6"/>
<polygon points="740.0,537.0 745.0,534.4 745.0,539.6" fill="#10109a"/>
<line x1="754.1" y1="537.0" x2="747.1" y2="537.0" stroke="#10109a" stroke-width="1.6"/>
<polygon points="747.1,537.0 752.1,534.4 752.1,539.6" fill="#10109a"/>
<rect x="342.5" y="521.5" width="415" height="30" fill="none" stroke="#000" stroke-width="1"/>
<line x1="343" y1="552.5" x2="757" y2="552.5" stroke="#555" stroke-width="1"/>
<text x="284.1" y="539.8" font-size="12.2" fill="#00008b" text-anchor="start" font-weight="normal" >W</text>
<text x="295.1" y="531" font-size="12.2" fill="#00008b" text-anchor="start" font-weight="normal" >N</text>
<text x="302.1" y="539.8" font-size="12.2" fill="#00008b" text-anchor="start" font-weight="normal" >E</text>
<text x="294.8" y="548" font-size="12.2" fill="#00008b" text-anchor="start" font-weight="normal" >S</text>
<text x="792.9" y="539.8" font-size="12.2" fill="#00008b" text-anchor="start" font-weight="normal" >W</text>
<text x="803.9" y="531" font-size="12.2" fill="#00008b" text-anchor="start" font-weight="normal" >N</text>
<text x="810.9" y="539.8" font-size="12.2" fill="#00008b" text-anchor="start" font-weight="normal" >E</text>
<text x="803.6" y="548" font-size="12.2" fill="#00008b" text-anchor="start" font-weight="normal" >S</text>
<rect x="343" y="558" width="414" height="79" fill="#80c0ec"/>
<rect x="423" y="558" width="61.0" height="79" fill="#88d4fa"/>
<rect x="592" y="558" width="60.5" height="79" fill="#88d4fa"/>
<line x1="343" y1="577.5" x2="757" y2="577.5" stroke="#000" stroke-width="1" stroke-dasharray="2,2"/>
<line x1="343" y1="597.5" x2="757" y2="597.5" stroke="#000" stroke-width="1" stroke-dasharray="2,2"/>
<line x1="343" y1="617.5" x2="757" y2="617.5" stroke="#000" stroke-width="1" stroke-dasharray="2,2"/>
<line x1="356.5" y1="558" x2="356.5" y2="637" stroke="#000" stroke-width="1" stroke-dasharray="2,2"/>
<line x1="377.5" y1="558" x2="377.5" y2="637" stroke="#000" stroke-width="1" stroke-dasharray="2,2"/>
<line x1="398.5" y1="558" x2="398.5" y2="637" stroke="#000" stroke-width="1" stroke-dasharray="2,2"/>
<line x1="419.5" y1="558" x2="419.5" y2="637" stroke="#000" stroke-width="1" stroke-dasharray="2,2"/>
<line x1="441.5" y1="558" x2="441.5" y2="637" stroke="#000" stroke-width="1" stroke-dasharray="2,2"/>
<line x1="462.5" y1="558" x2="462.5" y2="637" stroke="#000" stroke-width="1" stroke-dasharray="2,2"/>
<line x1="483.5" y1="558" x2="483.5" y2="637" stroke="#000" stroke-width="1" stroke-dasharray="2,2"/>
<line x1="504.5" y1="558" x2="504.5" y2="637" stroke="#000" stroke-width="1" stroke-dasharray="2,2"/>
<line x1="525.5" y1="558" x2="525.5" y2="637" stroke="#000" stroke-width="1" stroke-dasharray="2,2"/>
<line x1="546.5" y1="558" x2="546.5" y2="637" stroke="#000" stroke-width="1" stroke-dasharray="2,2"/>
<line x1="567.5" y1="558" x2="567.5" y2="637" stroke="#000" stroke-width="1" stroke-dasharray="2,2"/>
<line x1="588.5" y1="558" x2="588.5" y2="637" stroke="#000" stroke-width="1" stroke-dasharray="2,2"/>
<line x1="609.5" y1="558" x2="609.5" y2="637" stroke="#000" stroke-width="1" stroke-dasharray="2,2"/>
<line x1="630.5" y1="558" x2="630.5" y2="637" stroke="#000" stroke-width="1" stroke-dasharray="2,2"/>
<line x1="651.5" y1="558" x2="651.5" y2="637" stroke="#000" stroke-width="1" stroke-dasharray="2,2"/>
<line x1="673.5" y1="558" x2="673.5" y2="637" stroke="#000" stroke-width="1" stroke-dasharray="2,2"/>
<line x1="694.5" y1="558" x2="694.5" y2="637" stroke="#000" stroke-width="1" stroke-dasharray="2,2"/>
<line x1="715.5" y1="558" x2="715.5" y2="637" stroke="#000" stroke-width="1" stroke-dasharray="2,2"/>
<line x1="736.5" y1="558" x2="736.5" y2="637" stroke="#000" stroke-width="1" stroke-dasharray="2,2"/>
<circle cx="342.6" cy="631.1" r="2.6" fill="#d0d0d0"/>
<circle cx="349.7" cy="631.1" r="2.6" fill="#d0d0d0"/>
<circle cx="356.6" cy="631.1" r="2.6" fill="#d0d0d0"/>
<circle cx="363.6" cy="631.1" r="2.6" fill="#fff"/>
<circle cx="370.7" cy="631.1" r="2.6" fill="#fff"/>
<circle cx="377.9" cy="631.1" r="2.6" fill="#fff"/>
<circle cx="384.8" cy="631.1" r="2.6" fill="#fff"/>
<circle cx="391.7" cy="631.1" r="2.6" fill="#d0d0d0"/>
<circle cx="398.9" cy="631.1" r="2.6" fill="#fff"/>
<circle cx="406.1" cy="631.1" r="2.6" fill="#9a9a9a"/>
<circle cx="413.0" cy="631.1" r="2.6" fill="#d0d0d0"/>
<circle cx="419.9" cy="631.1" r="2.6" fill="#fff"/>
<circle cx="427.1" cy="631.1" r="2.6" fill="#fff"/>
<circle cx="434.2" cy="631.1" r="2.6" fill="#fff"/>
<circle cx="441.2" cy="631.1" r="2.6" fill="#fff"/>
<circle cx="448.1" cy="631.1" r="2.6" fill="#fff"/>
<circle cx="455.2" cy="631.1" r="2.6" fill="#fff"/>
<circle cx="462.4" cy="631.1" r="2.6" fill="#fff"/>
<circle cx="469.3" cy="631.1" r="2.6" fill="#fff"/>
<circle cx="476.2" cy="631.1" r="2.6" fill="#fff"/>
<circle cx="482.9" cy="631.1" r="2.6" fill="#fff"/>
<circle cx="489.8" cy="631.1" r="2.6" fill="#d0d0d0"/>
<circle cx="496.7" cy="631.1" r="2.6" fill="#9a9a9a"/>
<circle cx="503.9" cy="631.1" r="2.6" fill="#9a9a9a"/>
<circle cx="511.1" cy="631.1" r="2.6" fill="#9a9a9a"/>
<circle cx="518.0" cy="631.1" r="2.6" fill="#9a9a9a"/>
<circle cx="524.9" cy="631.1" r="2.6" fill="#d0d0d0"/>
<circle cx="532.1" cy="631.1" r="2.6" fill="#fff"/>
<circle cx="539.2" cy="631.1" r="2.6" fill="#fff"/>
<circle cx="546.1" cy="631.1" r="2.6" fill="#fff"/>
<circle cx="349.5" cy="621.0" r="2.6" fill="#c8c8c8"/>
<circle cx="349.5" cy="619.0" r="2.6" fill="#8a8a8a"/>
<circle cx="356.5" cy="621.0" r="2.6" fill="#c8c8c8"/>
<circle cx="363.5" cy="621.0" r="2.6" fill="#c8c8c8"/>
<circle cx="363.5" cy="619.0" r="2.6" fill="#8a8a8a"/>
<circle cx="370.6" cy="621.0" r="2.6" fill="#c8c8c8"/>
<circle cx="377.6" cy="621.0" r="2.6" fill="#c8c8c8"/>
<circle cx="377.6" cy="619.0" r="2.6" fill="#8a8a8a"/>
<circle cx="384.6" cy="621.0" r="2.6" fill="#c8c8c8"/>
<circle cx="391.7" cy="621.0" r="2.6" fill="#c8c8c8"/>
<circle cx="391.7" cy="619.0" r="2.6" fill="#8a8a8a"/>
<circle cx="398.7" cy="621.0" r="2.6" fill="#c8c8c8"/>
<circle cx="405.8" cy="621.0" r="2.6" fill="#c8c8c8"/>
<circle cx="405.8" cy="619.0" r="2.6" fill="#8a8a8a"/>
<circle cx="412.8" cy="621.0" r="2.6" fill="#c8c8c8"/>
<circle cx="419.8" cy="621.0" r="2.6" fill="#c8c8c8"/>
<circle cx="419.8" cy="619.0" r="2.6" fill="#8a8a8a"/>
<circle cx="426.9" cy="621.0" r="2.6" fill="#c8c8c8"/>
<circle cx="433.9" cy="621.0" r="2.6" fill="#c8c8c8"/>
<circle cx="433.9" cy="619.0" r="2.6" fill="#8a8a8a"/>
<circle cx="440.9" cy="621.0" r="2.6" fill="#c8c8c8"/>
<circle cx="448.0" cy="621.0" r="2.6" fill="#c8c8c8"/>
<circle cx="448.0" cy="619.0" r="2.6" fill="#8a8a8a"/>
<circle cx="455.0" cy="621.0" r="2.6" fill="#c8c8c8"/>
<circle cx="462.1" cy="621.0" r="2.6" fill="#c8c8c8"/>
<circle cx="462.1" cy="619.0" r="2.6" fill="#8a8a8a"/>
<circle cx="469.1" cy="621.0" r="2.6" fill="#c8c8c8"/>
<circle cx="476.1" cy="621.0" r="2.6" fill="#c8c8c8"/>
<circle cx="476.1" cy="619.0" r="2.6" fill="#8a8a8a"/>
<circle cx="483.2" cy="621.0" r="2.6" fill="#c8c8c8"/>
<circle cx="490.2" cy="621.0" r="2.6" fill="#c8c8c8"/>
<circle cx="490.2" cy="619.0" r="2.6" fill="#8a8a8a"/>
<circle cx="497.2" cy="621.0" r="2.6" fill="#c8c8c8"/>
<circle cx="504.3" cy="621.0" r="2.6" fill="#c8c8c8"/>
<circle cx="504.3" cy="619.0" r="2.6" fill="#8a8a8a"/>
<circle cx="511.3" cy="621.0" r="2.6" fill="#c8c8c8"/>
<circle cx="518.4" cy="621.0" r="2.6" fill="#c8c8c8"/>
<circle cx="518.4" cy="619.0" r="2.6" fill="#8a8a8a"/>
<circle cx="525.4" cy="621.0" r="2.6" fill="#c8c8c8"/>
<circle cx="532.4" cy="621.0" r="2.6" fill="#c8c8c8"/>
<circle cx="532.4" cy="619.0" r="2.6" fill="#8a8a8a"/>
<circle cx="539.5" cy="621.0" r="2.6" fill="#c8c8c8"/>
<circle cx="546.5" cy="621.0" r="2.6" fill="#c8c8c8"/>
<circle cx="546.5" cy="619.0" r="2.6" fill="#8a8a8a"/>
<circle cx="553.5" cy="621.0" r="2.6" fill="#c8c8c8"/>
<circle cx="343.1" cy="614.4" r="2.6" fill="#000"/>
<circle cx="349.7" cy="614.4" r="2.6" fill="#000"/>
<circle cx="356.6" cy="615.2" r="2.6" fill="#000"/>
<circle cx="370.7" cy="608.3" r="2.6" fill="#000"/>
<circle cx="377.9" cy="607.5" r="2.6" fill="#000"/>
<circle cx="384.8" cy="614.4" r="2.6" fill="#000"/>
<circle cx="391.7" cy="614.4" r="2.6" fill="#000"/>
<circle cx="398.9" cy="611.9" r="2.6" fill="#000"/>
<circle cx="406.1" cy="612.6" r="2.6" fill="#000"/>
<circle cx="413.0" cy="614.4" r="2.6" fill="#000"/>
<circle cx="419.9" cy="614.4" r="2.6" fill="#000"/>
<circle cx="427.1" cy="614.4" r="2.6" fill="#000"/>
<circle cx="434.2" cy="611.9" r="2.6" fill="#000"/>
<circle cx="441.2" cy="611.9" r="2.6" fill="#000"/>
<circle cx="448.1" cy="614.4" r="2.6" fill="#000"/>
<circle cx="455.2" cy="614.4" r="2.6" fill="#000"/>
<circle cx="462.4" cy="613.9" r="2.6" fill="#000"/>
<circle cx="469.3" cy="613.9" r="2.6" fill="#000"/>
<circle cx="476.2" cy="613.9" r="2.6" fill="#000"/>
<circle cx="482.9" cy="614.4" r="2.6" fill="#000"/>
<circle cx="489.8" cy="614.7" r="2.6" fill="#000"/>
<circle cx="496.7" cy="614.7" r="2.6" fill="#000"/>
<circle cx="503.9" cy="614.7" r="2.6" fill="#000"/>
<circle cx="511.1" cy="615.2" r="2.6" fill="#000"/>
<circle cx="518.0" cy="616.5" r="2.6" fill="#000"/>
<circle cx="524.9" cy="615.2" r="2.6" fill="#000"/>
<circle cx="532.1" cy="614.4" r="2.6" fill="#000"/>
<circle cx="539.2" cy="615.9" r="2.6" fill="#000"/>
<circle cx="363.6" cy="615.9" r="2.6" fill="#707070"/>
<circle cx="370.7" cy="614.4" r="2.6" fill="#707070"/>
<circle cx="377.9" cy="614.4" r="2.6" fill="#707070"/>
<circle cx="448.1" cy="616.5" r="2.6" fill="#707070"/>
<circle cx="469.3" cy="568.3" r="2.6" fill="#b22222"/>
<circle cx="475.7" cy="568.3" r="2.6" fill="#b22222"/>
<circle cx="482.9" cy="568.3" r="2.6" fill="#b22222"/>
<circle cx="489.8" cy="568.3" r="2.6" fill="#b22222"/>
<circle cx="496.7" cy="568.3" r="2.6" fill="#b22222"/>
<circle cx="503.9" cy="568.3" r="2.6" fill="#b22222"/>
<circle cx="511.1" cy="568.3" r="2.6" fill="#b22222"/>
<circle cx="518.0" cy="568.3" r="2.6" fill="#b22222"/>
<circle cx="524.9" cy="568.3" r="2.6" fill="#b22222"/>
<circle cx="343.8" cy="601.9" r="2.6" fill="#b22222"/>
<circle cx="349.7" cy="601.9" r="2.6" fill="#b22222"/>
<circle cx="356.6" cy="601.9" r="2.6" fill="#b22222"/>
<circle cx="363.6" cy="601.9" r="2.6" fill="#b22222"/>
<circle cx="370.7" cy="603.7" r="2.6" fill="#b22222"/>
<circle cx="377.9" cy="603.7" r="2.6" fill="#b22222"/>
<circle cx="384.8" cy="601.9" r="2.6" fill="#b22222"/>
<circle cx="391.7" cy="603.7" r="2.6" fill="#b22222"/>
<circle cx="398.9" cy="603.7" r="2.6" fill="#b22222"/>
<circle cx="406.1" cy="603.7" r="2.6" fill="#b22222"/>
<circle cx="413.0" cy="603.7" r="2.6" fill="#b22222"/>
<circle cx="419.9" cy="603.7" r="2.6" fill="#b22222"/>
<circle cx="427.1" cy="605.4" r="2.6" fill="#b22222"/>
<circle cx="434.2" cy="605.4" r="2.6" fill="#b22222"/>
<circle cx="441.2" cy="605.4" r="2.6" fill="#b22222"/>
<circle cx="448.1" cy="608.3" r="2.6" fill="#b22222"/>
<circle cx="455.2" cy="608.3" r="2.6" fill="#b22222"/>
<circle cx="462.4" cy="608.3" r="2.6" fill="#b22222"/>
<circle cx="532.1" cy="613.1" r="2.6" fill="#b22222"/>
<circle cx="539.2" cy="613.1" r="2.6" fill="#b22222"/>
<polyline points="343.0,589.6 350.2,584.4 356.6,589.6 364.3,576.8 373.3,573.4 384.8,574.7 392.5,584.4 398.9,581.1 406.1,593.9 414.3,589.6 419.4,587.8 427.1,575.0 434.8,576.8 441.2,584.4 447.6,572.2 455.2,572.4 462.9,570.4 473.2,570.9 482.1,574.2 489.8,592.1 501.3,594.7 510.3,593.9 518.0,596.0 525.7,588.3 532.1,572.2 550.0,572.4 580.7,570.9 614.0,571.6 652.4,574.2 757.0,574.2" fill="none" stroke="#ffa500" stroke-width="2.4" stroke-linejoin="round"/>
<circle cx="560.2" cy="576.0" r="2.6" fill="#ffffff"/>
<circle cx="567.4" cy="576.0" r="2.6" fill="#ffffff"/>
<circle cx="574.3" cy="576.0" r="2.6" fill="#ffffff"/>
<circle cx="581.2" cy="576.0" r="2.6" fill="#ffffff"/>
<circle cx="588.4" cy="576.0" r="2.6" fill="#b22222"/>
<circle cx="595.6" cy="576.0" r="2.6" fill="#b22222"/>
<circle cx="595.6" cy="579.3" r="2.6" fill="#ffffff"/>
<circle cx="602.5" cy="579.3" r="2.6" fill="#ffffff"/>
<circle cx="609.4" cy="579.3" r="2.6" fill="#ffffff"/>
<circle cx="616.6" cy="579.3" r="2.6" fill="#ffffff"/>
<circle cx="623.8" cy="569.1" r="2.6" fill="#ffffff"/>
<circle cx="630.7" cy="569.1" r="2.6" fill="#ffffff"/>
<circle cx="644.8" cy="569.1" r="2.6" fill="#ffffff"/>
<circle cx="651.9" cy="569.1" r="2.6" fill="#ffffff"/>
<circle cx="658.8" cy="577.5" r="2.6" fill="#ffffff"/>
<circle cx="665.7" cy="577.5" r="2.6" fill="#ffffff"/>
<circle cx="672.9" cy="575.5" r="2.6" fill="#d8ecf8"/>
<circle cx="680.1" cy="575.5" r="2.6" fill="#d8ecf8"/>
<circle cx="687.3" cy="575.5" r="2.6" fill="#d8ecf8"/>
<circle cx="694.4" cy="575.5" r="2.6" fill="#d8ecf8"/>
<circle cx="701.6" cy="575.5" r="2.6" fill="#d8ecf8"/>
<circle cx="708.8" cy="575.5" r="2.6" fill="#d8ecf8"/>
<circle cx="715.9" cy="575.5" r="2.6" fill="#d8ecf8"/>
<circle cx="723.1" cy="575.5" r="2.6" fill="#d8ecf8"/>
<circle cx="730.3" cy="575.5" r="2.6" fill="#d8ecf8"/>
<circle cx="737.5" cy="575.5" r="2.6" fill="#d8ecf8"/>
<circle cx="744.6" cy="575.5" r="2.6" fill="#d8ecf8"/>
<circle cx="751.8" cy="575.5" r="2.6" fill="#d8ecf8"/>
<circle cx="708.3" cy="569.6" r="2.6" fill="#b22222"/>
<circle cx="715.2" cy="569.6" r="2.6" fill="#b22222"/>
<circle cx="722.1" cy="569.6" r="2.6" fill="#b22222"/>
<circle cx="729.3" cy="569.6" r="2.6" fill="#b22222"/>
<circle cx="736.2" cy="569.6" r="2.6" fill="#b22222"/>
<circle cx="743.3" cy="569.6" r="2.6" fill="#b22222"/>
<circle cx="750.3" cy="569.6" r="2.6" fill="#b22222"/>
<circle cx="756.9" cy="569.6" r="2.6" fill="#b22222"/>
<circle cx="553.1" cy="615.2" r="2.6" fill="#b22222"/>
<circle cx="553.1" cy="630.5" r="2.6" fill="#ffffff"/>
<rect x="342.5" y="558.5" width="415" height="78" fill="none" stroke="#000" stroke-width="1"/>
<text x="337.5" y="562.9" font-size="10.8" fill="#000" text-anchor="end" font-weight="normal" >15.0</text>
<text x="337.5" y="582.4" font-size="10.8" fill="#000" text-anchor="end" font-weight="normal" >7.0</text>
<text x="337.5" y="601.4" font-size="10.8" fill="#000" text-anchor="end" font-weight="normal" >2.0</text>
<text x="337.5" y="621.0" font-size="10.8" fill="#000" text-anchor="end" font-weight="normal" >0.5</text>
<text x="337.5" y="639.9" font-size="10.8" fill="#000" text-anchor="end" font-weight="normal" >0.0</text>
<text x="761.5" y="562.9" font-size="10.8" fill="#f88a0c" text-anchor="start" font-weight="normal" >100</text>
<text x="761.5" y="582.4" font-size="10.8" fill="#f88a0c" text-anchor="start" font-weight="normal" >20</text>
<text x="761.5" y="601.4" font-size="10.8" fill="#f88a0c" text-anchor="start" font-weight="normal" >5</text>
<text x="761.5" y="621.0" font-size="10.8" fill="#f88a0c" text-anchor="start" font-weight="normal" >1</text>
<text x="761.5" y="639.9" font-size="10.8" fill="#f88a0c" text-anchor="start" font-weight="normal" >0</text>
<text x="0" y="0" transform="translate(290,594) rotate(-90)" font-size="12.2" fill="#00008b" text-anchor="middle" dominant-baseline="central">pion. rozciągł. chm.</text>
<text x="0" y="0" transform="translate(303,594) rotate(-90)" font-size="12.2" fill="#00008b" text-anchor="middle" dominant-baseline="central">(km)</text>
<text x="0" y="0" transform="translate(798,594) rotate(-90)" font-size="12.2" fill="#00008b" text-anchor="middle" dominant-baseline="central">(km)</text>
<text x="0" y="0" transform="translate(811,594) rotate(-90)" font-size="12.2" fill="#00008b" text-anchor="middle" dominant-baseline="central">widzialność</text>
<rect x="343" y="645" width="414" height="16" fill="#80c0ec"/>
<rect x="423" y="645" width="61.0" height="16" fill="#88d4fa"/>
<rect x="592" y="645" width="60.5" height="16" fill="#88d4fa"/>
<polygon points="343.0,651.4 348.0,654.4 356.6,650.0 363.0,654.4 369.4,652.6 377.0,648.8 386.0,646.8 417.0,647.5 429.6,646.8 434.8,648.8 441.2,656.5 445.0,661.0 343.0,661.0" fill="#555555"/>
<polygon points="467.3,661.0 470.6,650.0 475.7,646.8 524.4,646.8 534.6,661.0" fill="#555555"/>
<line x1="356.5" y1="645" x2="356.5" y2="660" stroke="#000" stroke-width="1" stroke-dasharray="2,2"/>
<line x1="377.5" y1="645" x2="377.5" y2="660" stroke="#000" stroke-width="1" stroke-dasharray="2,2"/>
<line x1="398.5" y1="645" x2="398.5" y2="660" stroke="#000" stroke-width="1" stroke-dasharray="2,2"/>
<line x1="419.5" y1="645" x2="419.5" y2="660" stroke="#000" stroke-width="1" stroke-dasharray="2,2"/>
<line x1="441.5" y1="645" x2="441.5" y2="660" stroke="#000" stroke-width="1" stroke-dasharray="2,2"/>
<line x1="462.5" y1="645" x2="462.5" y2="660" stroke="#000" stroke-width="1" stroke-dasharray="2,2"/>
<line x1="483.5" y1="645" x2="483.5" y2="660" stroke="#000" stroke-width="1" stroke-dasharray="2,2"/>
<line x1="504.5" y1="645" x2="504.5" y2="660" stroke="#000" stroke-width="1" stroke-dasharray="2,2"/>
<line x1="525.5" y1="645" x2="525.5" y2="660" stroke="#000" stroke-width="1" stroke-dasharray="2,2"/>
<line x1="546.5" y1="645" x2="546.5" y2="660" stroke="#000" stroke-width="1" stroke-dasharray="2,2"/>
<line x1="567.5" y1="645" x2="567.5" y2="660" stroke="#000" stroke-width="1" stroke-dasharray="2,2"/>
<line x1="588.5" y1="645" x2="588.5" y2="660" stroke="#000" stroke-width="1" stroke-dasharray="2,2"/>
<line x1="609.5" y1="645" x2="609.5" y2="660" stroke="#000" stroke-width="1" stroke-dasharray="2,2"/>
<line x1="630.5" y1="645" x2="630.5" y2="660" stroke="#000" stroke-width="1" stroke-dasharray="2,2"/>
<line x1="651.5" y1="645" x2="651.5" y2="660" stroke="#000" stroke-width="1" stroke-dasharray="2,2"/>
<line x1="673.5" y1="645" x2="673.5" y2="660" stroke="#000" stroke-width="1" stroke-dasharray="2,2"/>
<line x1="694.5" y1="645" x2="694.5" y2="660" stroke="#000" stroke-width="1" stroke-dasharray="2,2"/>
<line x1="715.5" y1="645" x2="715.5" y2="660" stroke="#000" stroke-width="1" stroke-dasharray="2,2"/>
<line x1="736.5" y1="645" x2="736.5" y2="660" stroke="#000" stroke-width="1" stroke-dasharray="2,2"/>
<rect x="342.5" y="645.5" width="415" height="30" fill="none" stroke="#000" stroke-width="1"/>
<text x="337.5" y="650" font-size="10.8" fill="#000" text-anchor="end" font-weight="normal" >8</text>
<text x="761.5" y="650" font-size="10.8" fill="#f88a0c" text-anchor="start" font-weight="normal" >1</text>
<text x="0" y="0" transform="translate(290,660) rotate(-90)" font-size="12.2" fill="#00008b" text-anchor="middle" dominant-baseline="central">e</text>
<defs><clipPath id="wm"><rect x="343" y="264" width="414" height="77"/><rect x="343" y="351" width="414" height="77"/><rect x="343" y="438" width="414" height="77"/><rect x="343" y="522" width="414" height="29"/></clipPath></defs>
<g clip-path="url(#wm)" fill="none" stroke="#000" stroke-opacity="0.05" stroke-width="8" stroke-linecap="round">
<path d="M 425,312 C 352,322 345,420 402,458"/>
<path d="M 520,262 C 548,290 548,340 522,362 C 496,392 486,440 486,520"/>
<path d="M 430,300 C 440,330 445,370 440,400"/>
<path d="M 546,350 C 532,380 536,420 556,446"/>
<path d="M 650,356 C 660,335 690,335 698,360 C 705,335 735,335 742,360"/>
</g>
<rect x="170" y="30" width="61.599999999999994" height="600" fill="#edf3fb"/>
<text x="5.3" y="18" font-size="10.8" fill="#000" text-anchor="start" font-weight="normal" textLength="59.4" lengthAdjust="spacingAndGlyphs">Czas lokalny</text>
<text x="5.3" y="29.7" font-size="10.8" fill="#000" text-anchor="start" font-weight="normal" textLength="55.2" lengthAdjust="spacingAndGlyphs">(CET/CEST)</text>
<polyline points="68.0,15.5 133.0,15.5 156.0,44.0" fill="none" stroke="#000" stroke-width="1"/>
<text x="163.7" y="51.5" font-size="10.8" fill="#000" text-anchor="middle" font-weight="normal" >20</text>
<text x="204.5" y="51.5" font-size="10.8" fill="#000" text-anchor="middle" font-weight="normal" >02</text>
<text x="244.5" y="51.5" font-size="10.8" fill="#000" text-anchor="middle" font-weight="normal" >08</text>
<rect x="136" y="57" width="109" height="77" fill="#ffffff"/>
<rect x="170" y="57" width="61.599999999999994" height="77" fill="#edf3fb"/>
<polygon points="135.9,87.8 150.5,93.9 171.0,104.2 188.5,107.8 212.0,109.3 232.0,111.0 245.5,105.6 245.5,118.0 232.4,125.0 212.0,123.0 185.6,119.0 171.0,116.0 150.5,106.0 135.9,104.0" fill="#feece4"/>
<polygon points="135.9,103.0 142.4,104.2 159.3,109.3 171.0,112.2 185.6,114.0 197.3,117.0 212.0,118.8 217.8,116.6 225.1,119.5 232.4,121.7 238.3,116.6 245.5,115.9 245.5,134.0 135.9,134.0" fill="#aadcf8"/>
<polygon points="135.9,111.5 171.0,116.0 190.0,121.0 206.0,127.0 220.0,134.0 135.9,134.0" fill="#82c2ec"/>
<line x1="136" y1="59.5" x2="245" y2="59.5" stroke="#000" stroke-width="1" stroke-dasharray="2,2"/>
<line x1="136" y1="77.5" x2="245" y2="77.5" stroke="#000" stroke-width="1" stroke-dasharray="2,2"/>
<line x1="136" y1="93.5" x2="245" y2="93.5" stroke="#000" stroke-width="1" stroke-dasharray="2,2"/>
<line x1="136" y1="111.5" x2="245" y2="111.5" stroke="#000" stroke-width="1" stroke-dasharray="2,2"/>
<line x1="136" y1="129.5" x2="245" y2="129.5" stroke="#000" stroke-width="1" stroke-dasharray="2,2"/>
<line x1="142.5" y1="57" x2="142.5" y2="134" stroke="#000" stroke-width="1" stroke-dasharray="2,2"/>
<line x1="163.5" y1="57" x2="163.5" y2="134" stroke="#000" stroke-width="1" stroke-dasharray="2,2"/>
<line x1="184.5" y1="57" x2="184.5" y2="134" stroke="#000" stroke-width="1" stroke-dasharray="2,2"/>
<line x1="205.5" y1="57" x2="205.5" y2="134" stroke="#000" stroke-width="1" stroke-dasharray="2,2"/>
<line x1="226.5" y1="57" x2="226.5" y2="134" stroke="#000" stroke-width="1" stroke-dasharray="2,2"/>
<polyline points="130.0,76.3 133.0,76.3 171.0,110.7" fill="none" stroke="#ff0000" stroke-width="1"/>
<polyline points="128.0,58.0 149.8,83.7" fill="none" stroke="#a52a2a" stroke-width="1"/>
<polyline points="70.0,99.0 133.0,99.0 136.0,102.7" fill="none" stroke="#0000ff" stroke-width="1"/>
<polyline points="96.0,120.5 131.0,120.5 142.0,113.2" fill="none" stroke="#6a5acd" stroke-width="1"/>
<polyline points="136.0,99.0 142.4,99.5 150.5,102.0 169.5,111.5 185.6,113.2 206.1,113.7 230.0,114.4 233.5,119.2 245.0,111.4" fill="none" stroke="#ff0000" stroke-width="2.4"/>
<polyline points="136.0,103.0 142.4,104.2 159.3,109.3 171.0,112.2 185.6,114.0 191.0,117.4 205.0,118.0 213.0,118.6 219.0,116.2 226.0,117.4 233.0,122.3 240.0,116.8 245.0,115.6" fill="none" stroke="#0000ff" stroke-width="2.4"/>
<line x1="142.5" y1="70.8" x2="142.5" y2="98" stroke="#a52a2a" stroke-width="1"/>
<line x1="149.5" y1="78" x2="149.5" y2="92.6" stroke="#a52a2a" stroke-width="1"/>
<line x1="156.6" y1="87.1" x2="156.6" y2="99.2" stroke="#a52a2a" stroke-width="1"/>
<line x1="163.5" y1="96.2" x2="163.5" y2="105.9" stroke="#a52a2a" stroke-width="1"/>
<line x1="170.4" y1="101" x2="170.4" y2="114.4" stroke="#a52a2a" stroke-width="1"/>
<line x1="177.4" y1="102.9" x2="177.4" y2="118.6" stroke="#a52a2a" stroke-width="1"/>
<line x1="184.5" y1="107" x2="184.5" y2="121" stroke="#a52a2a" stroke-width="1"/>
<line x1="191.5" y1="107.1" x2="191.5" y2="124.1" stroke="#a52a2a" stroke-width="1"/>
<line x1="198.5" y1="107.7" x2="198.5" y2="125.9" stroke="#a52a2a" stroke-width="1"/>
<line x1="205.5" y1="108.9" x2="205.5" y2="127.7" stroke="#a52a2a" stroke-width="1"/>
<line x1="212.4" y1="108.9" x2="212.4" y2="127.7" stroke="#a52a2a" stroke-width="1"/>
<line x1="219.5" y1="110.2" x2="219.5" y2="130.8" stroke="#a52a2a" stroke-width="1"/>
<line x1="226.4" y1="110.8" x2="226.4" y2="132.6" stroke="#a52a2a" stroke-width="1"/>
<line x1="233.4" y1="111.4" x2="233.4" y2="132.6" stroke="#a52a2a" stroke-width="1"/>
<line x1="240.3" y1="105.9" x2="240.3" y2="120.5" stroke="#a52a2a" stroke-width="1"/>
<rect x="140.9" y="111.7" width="3" height="3" fill="#6a5acd"/>
<rect x="147.5" y="111.7" width="3" height="3" fill="#6a5acd"/>
<rect x="154.8" y="111.7" width="3" height="3" fill="#6a5acd"/>
<rect x="162.2" y="111.7" width="3" height="3" fill="#6a5acd"/>
<rect x="190.0" y="117.3" width="3" height="3" fill="#6a5acd"/>
<rect x="197.3" y="117.3" width="3" height="3" fill="#6a5acd"/>
<rect x="218.1" y="117.3" width="3" height="3" fill="#6a5acd"/>
<rect x="225.1" y="117.5" width="3" height="3" fill="#6a5acd"/>
<rect x="238.3" y="116.5" width="3" height="3" fill="#6a5acd"/>
<rect x="135.5" y="57.5" width="110" height="77" fill="none" stroke="#000" stroke-width="1.2"/>
<text x="128.3" y="63.3" font-size="10.5" fill="#000" text-anchor="end" font-weight="normal" >30</text>
<text x="266" y="63.3" font-size="10.5" fill="#000" text-anchor="end" font-weight="normal" >30</text>
<text x="128.3" y="80.89999999999999" font-size="10.5" fill="#000" text-anchor="end" font-weight="normal" >20</text>
<text x="266" y="80.89999999999999" font-size="10.5" fill="#000" text-anchor="end" font-weight="normal" >20</text>
<text x="128.3" y="97.7" font-size="10.5" fill="#000" text-anchor="end" font-weight="normal" >10</text>
<text x="266" y="97.7" font-size="10.5" fill="#000" text-anchor="end" font-weight="normal" >10</text>
<text x="128.3" y="115.3" font-size="10.5" fill="#000" text-anchor="end" font-weight="normal" >0</text>
<text x="266" y="115.3" font-size="10.5" fill="#000" text-anchor="end" font-weight="normal" >0</text>
<text x="128.3" y="132.8" font-size="10.5" fill="#000" text-anchor="end" font-weight="normal" >-10</text>
<text x="266" y="132.8" font-size="10.5" fill="#000" text-anchor="end" font-weight="normal" >-10</text>
<text x="5.9" y="45.6" font-size="10.8" fill="#a52a2a" text-anchor="start" font-weight="normal" textLength="93.4" lengthAdjust="spacingAndGlyphs">Temperatura gruntu</text>
<polyline points="101.0,43.5 120.0,43.5 133.0,58.0" fill="none" stroke="#a52a2a" stroke-width="1"/>
<text x="27.6" y="55.6" font-size="10.8" fill="#a52a2a" text-anchor="start" font-weight="normal" textLength="38.6" lengthAdjust="spacingAndGlyphs">max/min</text>
<text x="5.3" y="67.5" font-size="10.8" fill="#000" text-anchor="start" font-weight="normal" textLength="62.2" lengthAdjust="spacingAndGlyphs">Temperatura:</text>
<text x="12.7" y="79.5" font-size="10.8" fill="#ff0000" text-anchor="start" font-weight="normal" textLength="77.5" lengthAdjust="spacingAndGlyphs">punkt środkowy</text>
<polyline points="92.0,76.3 115.0,76.3" fill="none" stroke="#ff0000" stroke-width="1"/>
<text x="27.6" y="89" font-size="10.8" fill="#f9c9b9" text-anchor="start" font-weight="normal" textLength="38.6" lengthAdjust="spacingAndGlyphs">max/min</text>
<text x="9.5" y="101.4" font-size="10.8" fill="#0000ff" text-anchor="start" font-weight="normal" textLength="58.0" lengthAdjust="spacingAndGlyphs">odczuwana</text>
<text x="27.6" y="111.4" font-size="10.8" fill="#a6d8f6" text-anchor="start" font-weight="normal" textLength="38.6" lengthAdjust="spacingAndGlyphs">max/min</text>
<text x="5.9" y="123.5" font-size="10.8" fill="#6a5acd" text-anchor="start" font-weight="normal" textLength="87.4" lengthAdjust="spacingAndGlyphs">Temp. punktu rosy</text>
<rect x="136" y="143" width="109" height="77" fill="#ffffff"/>
<rect x="170" y="143" width="61.599999999999994" height="77" fill="#edf3fb"/>
<polygon points="135.5,187.0 143.5,187.0 143.5,181.0 150.0,181.0 150.0,179.0 157.0,179.0 157.0,181.0 164.0,181.0 164.0,207.6 170.0,207.6 170.0,218.0 177.0,218.0 177.0,220.2 135.5,220.2" fill="#008c00"/>
<rect x="157" y="181.8" width="7" height="20" fill="#0a28d0"/>
<rect x="164" y="205" width="6" height="2.6" fill="#0a28d0"/>
<line x1="136" y1="150.5" x2="245" y2="150.5" stroke="#000" stroke-width="1" stroke-dasharray="2,2"/>
<line x1="136" y1="168.5" x2="245" y2="168.5" stroke="#000" stroke-width="1" stroke-dasharray="2,2"/>
<line x1="136" y1="185.5" x2="245" y2="185.5" stroke="#000" stroke-width="1" stroke-dasharray="2,2"/>
<line x1="136" y1="203.5" x2="245" y2="203.5" stroke="#000" stroke-width="1" stroke-dasharray="2,2"/>
<line x1="143.5" y1="143" x2="143.5" y2="220" stroke="#000" stroke-width="1" stroke-dasharray="2,2"/>
<line x1="164.5" y1="143" x2="164.5" y2="220" stroke="#000" stroke-width="1" stroke-dasharray="2,2"/>
<line x1="184.5" y1="143" x2="184.5" y2="220" stroke="#000" stroke-width="1" stroke-dasharray="2,2"/>
<line x1="204.5" y1="143" x2="204.5" y2="220" stroke="#000" stroke-width="1" stroke-dasharray="2,2"/>
<line x1="225.5" y1="143" x2="225.5" y2="220" stroke="#000" stroke-width="1" stroke-dasharray="2,2"/>
<line x1="139.3" y1="165" x2="139.3" y2="186" stroke="#00b000" stroke-width="1"/>
<line x1="146.5" y1="147.7" x2="146.5" y2="181" stroke="#00b000" stroke-width="1"/>
<line x1="153.4" y1="147.7" x2="153.4" y2="179" stroke="#00b000" stroke-width="1"/>
<polyline points="135.5,172.5 142.0,169.5 146.0,166.5 150.0,159.5 155.0,156.5 164.0,153.0 185.0,152.8 190.0,149.3 195.0,148.5 198.0,148.8 206.0,154.8 212.0,155.0 226.0,149.3 240.0,157.3 245.5,164.0" fill="none" stroke="#e8501e" stroke-width="2"/>
<circle cx="139.3" cy="173.5" r="2.4" fill="#ffe000" stroke="#8a6000" stroke-width="0.7"/>
<circle cx="146.5" cy="173.5" r="2.4" fill="#ffa000" stroke="#8a6000" stroke-width="0.7"/>
<circle cx="153.4" cy="173.5" r="2.4" fill="#ff0000" stroke="#8a6000" stroke-width="0.7"/>
<rect x="145.2" y="146.2" width="2.6" height="2.6" fill="#ff0000"/>
<rect x="152.1" y="146.2" width="2.6" height="2.6" fill="#ff0000"/>
<line x1="136" y1="219.2" x2="164" y2="219.2" stroke="#ff2020" stroke-width="1.2" stroke-dasharray="3,2"/>
<polyline points="0.0,0.0" fill="none" stroke="#000" stroke-width="1"/>
<rect x="135.5" y="143.5" width="110" height="77" fill="none" stroke="#000" stroke-width="1.2"/>
<text x="128.3" y="153.8" font-size="10.5" fill="#000" text-anchor="end" font-weight="normal" >2.0</text>
<text x="128.3" y="171.8" font-size="10.5" fill="#000" text-anchor="end" font-weight="normal" >1.5</text>
<text x="128.3" y="189.10000000000002" font-size="10.5" fill="#000" text-anchor="end" font-weight="normal" >1.0</text>
<text x="128.3" y="207.10000000000002" font-size="10.5" fill="#000" text-anchor="end" font-weight="normal" >0.5</text>
<text x="128.3" y="223.8" font-size="10.5" fill="#000" text-anchor="end" font-weight="normal" >0.0</text>
<text x="265.5" y="153.8" font-size="10.5" fill="#e84810" text-anchor="end" font-weight="normal" >96</text>
<text x="265.5" y="171.8" font-size="10.5" fill="#e84810" text-anchor="end" font-weight="normal" >84</text>
<text x="265.5" y="189.10000000000002" font-size="10.5" fill="#e84810" text-anchor="end" font-weight="normal" >73</text>
<text x="265.5" y="207.10000000000002" font-size="10.5" fill="#e84810" text-anchor="end" font-weight="normal" >61</text>
<text x="265.5" y="223.8" font-size="10.5" fill="#e84810" text-anchor="end" font-weight="normal" >50</text>
<text x="5.9" y="140.6" font-size="10.8" fill="#ff0000" text-anchor="start" font-weight="normal" textLength="93.8" lengthAdjust="spacingAndGlyphs">Opad powyżej skali</text>
<polyline points="103.0,137.5 141.0,137.5 146.5,146.0" fill="none" stroke="#ff0000" stroke-width="1"/>
<text x="5.9" y="154.4" font-size="10.8" fill="#e8501e" text-anchor="start" font-weight="normal" textLength="97.0" lengthAdjust="spacingAndGlyphs">Wilgotność względna</text>
<polyline points="104.0,151.5 110.0,151.5" fill="none" stroke="#e8501e" stroke-width="1"/>
<polyline points="129.0,152.0 140.0,158.0" fill="none" stroke="#e8501e" stroke-width="1"/>
<text x="5.9" y="169.2" font-size="10.8" fill="#000" text-anchor="start" font-weight="normal" textLength="85.3" lengthAdjust="spacingAndGlyphs">Wystąpienie burzy</text>
<polyline points="94.0,166.0 110.0,166.0" fill="none" stroke="#000" stroke-width="1"/>
<polyline points="129.0,166.0 131.0,166.0 136.0,170.5" fill="none" stroke="#000" stroke-width="1"/>
<text x="5.9" y="182.6" font-size="10.8" fill="#10b010" text-anchor="start" font-weight="normal" textLength="39.7" lengthAdjust="spacingAndGlyphs">Deszcz:</text>
<text x="49.2" y="182.6" font-size="10.8" fill="#10b010" text-anchor="start" font-weight="normal" textLength="19.7" lengthAdjust="spacingAndGlyphs">max</text>
<polyline points="71.0,179.5 139.0,179.5" fill="none" stroke="#10b010" stroke-width="1"/>
<text x="49.2" y="193.6" font-size="10.8" fill="#10b010" text-anchor="start" font-weight="normal" textLength="29.3" lengthAdjust="spacingAndGlyphs">średni</text>
<polyline points="80.0,190.5 139.0,190.5" fill="none" stroke="#10b010" stroke-width="1"/>
<text x="5.9" y="205.3" font-size="10.8" fill="#1030d0" text-anchor="start" font-weight="normal" textLength="30.2" lengthAdjust="spacingAndGlyphs">Śnieg:</text>
<text x="49.2" y="205.3" font-size="10.8" fill="#1030d0" text-anchor="start" font-weight="normal" textLength="18.7" lengthAdjust="spacingAndGlyphs">max</text>
<polyline points="71.0,202.0 111.0,202.0" fill="none" stroke="#1030d0" stroke-width="1"/>
<polyline points="130.0,202.0 134.0,202.0 160.6,171.3 160.6,175.0" fill="none" stroke="#1030d0" stroke-width="1"/>
<text x="49.2" y="215.5" font-size="10.8" fill="#1030d0" text-anchor="start" font-weight="normal" textLength="29.3" lengthAdjust="spacingAndGlyphs">średni</text>
<polyline points="80.0,212.5 134.0,212.5 157.0,188.0" fill="none" stroke="#1030d0" stroke-width="1"/>
<text x="5.9" y="227.6" font-size="10.8" fill="#ff0000" text-anchor="start" font-weight="normal" textLength="88.5" lengthAdjust="spacingAndGlyphs">Wystąpienie opadu</text>
<polyline points="98.0,224.5 137.0,224.5 142.0,220.0" fill="none" stroke="#ff0000" stroke-width="1"/>
<text x="5.9" y="240.3" font-size="10.8" fill="#ff0000" text-anchor="start" font-weight="normal" textLength="71.5" lengthAdjust="spacingAndGlyphs">konwekcyjnego</text>
<rect x="136" y="229" width="109" height="77" fill="#ffffff"/>
<rect x="170" y="229" width="61.599999999999994" height="77" fill="#edf3fb"/>
<polygon points="135.5,261.0 143.0,260.5 150.0,252.4 158.0,249.0 165.0,249.0 170.5,245.3 186.0,250.7 192.0,253.8 226.0,253.8 245.5,265.2 245.5,306.2 135.5,306.2" fill="#ffff00"/>
<rect x="165" y="248" width="5.5" height="58" fill="#ffd400"/>
<line x1="136" y1="231.5" x2="245" y2="231.5" stroke="#000" stroke-width="1" stroke-dasharray="2,2"/>
<line x1="136" y1="254.5" x2="245" y2="254.5" stroke="#000" stroke-width="1" stroke-dasharray="2,2"/>
<line x1="136" y1="278.5" x2="245" y2="278.5" stroke="#000" stroke-width="1" stroke-dasharray="2,2"/>
<line x1="136" y1="301.5" x2="245" y2="301.5" stroke="#000" stroke-width="1" stroke-dasharray="2,2"/>
<line x1="143.5" y1="229" x2="143.5" y2="306" stroke="#000" stroke-width="1" stroke-dasharray="2,2"/>
<line x1="164.5" y1="229" x2="164.5" y2="306" stroke="#000" stroke-width="1" stroke-dasharray="2,2"/>
<line x1="184.5" y1="229" x2="184.5" y2="306" stroke="#000" stroke-width="1" stroke-dasharray="2,2"/>
<line x1="204.5" y1="229" x2="204.5" y2="306" stroke="#000" stroke-width="1" stroke-dasharray="2,2"/>
<line x1="225.5" y1="229" x2="225.5" y2="306" stroke="#000" stroke-width="1" stroke-dasharray="2,2"/>
<polyline points="135.5,261.0 143.0,260.5 150.0,252.4 158.0,249.0 165.0,249.0 170.5,245.3 186.0,250.7 192.0,253.8 226.0,253.8 245.5,265.2" fill="none" stroke="#000" stroke-width="2"/>
<rect x="135.5" y="229.5" width="110" height="77" fill="none" stroke="#000" stroke-width="1.2"/>
<text x="128.3" y="234.9" font-size="10.5" fill="#000" text-anchor="end" font-weight="normal" >1018</text>
<text x="251.6" y="234.9" font-size="10.5" fill="#000" text-anchor="start" font-weight="normal" >1018</text>
<text x="128.3" y="257.9" font-size="10.5" fill="#000" text-anchor="end" font-weight="normal" >1016</text>
<text x="251.6" y="257.9" font-size="10.5" fill="#000" text-anchor="start" font-weight="normal" >1016</text>
<text x="128.3" y="282.2" font-size="10.5" fill="#000" text-anchor="end" font-weight="normal" >1014</text>
<text x="251.6" y="282.2" font-size="10.5" fill="#000" text-anchor="start" font-weight="normal" >1014</text>
<text x="128.3" y="304.90000000000003" font-size="10.5" fill="#000" text-anchor="end" font-weight="normal" >1012</text>
<text x="251.6" y="304.90000000000003" font-size="10.5" fill="#000" text-anchor="start" font-weight="normal" >1012</text>
<text x="4.7" y="266.8" font-size="10.8" fill="#000" text-anchor="start" font-weight="normal" textLength="42.4" lengthAdjust="spacingAndGlyphs">Ciśnienie</text>
<polyline points="52.0,263.5 131.0,263.5 136.0,261.0" fill="none" stroke="#000" stroke-width="1"/>
<text x="4.7" y="279.7" font-size="10.8" fill="#000" text-anchor="start" font-weight="normal" textLength="66.4" lengthAdjust="spacingAndGlyphs">zredukowane</text>
<text x="4.7" y="292.2" font-size="10.8" fill="#000" text-anchor="start" font-weight="normal" textLength="87.6" lengthAdjust="spacingAndGlyphs">do poziomu morza</text>
<rect x="136" y="315" width="109" height="77" fill="#ffffff"/>
<rect x="170" y="315" width="61.599999999999994" height="77" fill="#edf3fb"/>
<defs><clipPath id="lwclip"><polygon points="135.5,364.7 150.0,372.1 170.0,375.0 184.0,375.3 200.0,373.0 230.0,373.4 245.5,369.0 245.5,392.3 135.5,392.3"/></clipPath></defs>
<g clip-path="url(#lwclip)">
<rect x="135.5" y="360" width="12.5" height="33" fill="#10c010"/>
<rect x="148" y="360" width="21" height="33" fill="#007000"/>
<rect x="169" y="360" width="28" height="33" fill="#0a3d8a"/>
<rect x="197" y="360" width="14" height="33" fill="#007000"/>
<rect x="211" y="360" width="14" height="33" fill="#0a3d8a"/>
<rect x="225" y="360" width="14" height="33" fill="#007000"/>
<rect x="239" y="360" width="6.5" height="33" fill="#10c010"/>
</g>
<line x1="136" y1="334.5" x2="245" y2="334.5" stroke="#000" stroke-width="1" stroke-dasharray="2,2"/>
<line x1="136" y1="354.5" x2="245" y2="354.5" stroke="#000" stroke-width="1" stroke-dasharray="2,2"/>
<line x1="136" y1="373.5" x2="245" y2="373.5" stroke="#000" stroke-width="1" stroke-dasharray="2,2"/>
<line x1="143.5" y1="315" x2="143.5" y2="392" stroke="#000" stroke-width="1" stroke-dasharray="2,2"/>
<line x1="164.5" y1="315" x2="164.5" y2="392" stroke="#000" stroke-width="1" stroke-dasharray="2,2"/>
<line x1="184.5" y1="315" x2="184.5" y2="392" stroke="#000" stroke-width="1" stroke-dasharray="2,2"/>
<line x1="204.5" y1="315" x2="204.5" y2="392" stroke="#000" stroke-width="1" stroke-dasharray="2,2"/>
<line x1="225.5" y1="315" x2="225.5" y2="392" stroke="#000" stroke-width="1" stroke-dasharray="2,2"/>
<polyline points="135.5,364.7 150.0,372.1 170.0,375.0 184.0,375.3 200.0,373.0 230.0,373.4 245.5,369.0" fill="none" stroke="#0a1e9a" stroke-width="2"/>
<line x1="148" y1="347.7" x2="162" y2="347.7" stroke="#ff0000" stroke-width="1"/>
<line x1="162" y1="351.3" x2="170" y2="351.3" stroke="#ff0000" stroke-width="1"/>
<line x1="170" y1="355.6" x2="178" y2="355.6" stroke="#ff0000" stroke-width="1"/>
<line x1="178" y1="358.3" x2="184" y2="358.3" stroke="#ff0000" stroke-width="1"/>
<line x1="184" y1="355" x2="190" y2="355" stroke="#ff0000" stroke-width="1"/>
<line x1="190" y1="351.3" x2="200" y2="351.3" stroke="#ff0000" stroke-width="1"/>
<line x1="200" y1="350" x2="211" y2="350" stroke="#ff0000" stroke-width="1"/>
<line x1="211" y1="351" x2="225" y2="351" stroke="#ff0000" stroke-width="1"/>
<line x1="225" y1="347" x2="232" y2="347" stroke="#ff0000" stroke-width="1"/>
<line x1="232" y1="343" x2="245.5" y2="343" stroke="#ff0000" stroke-width="1"/>
<polyline points="108.0,348.5 118.0,348.5 136.0,343.5 148.0,340.5" fill="none" stroke="#ff0000" stroke-width="1"/>
<rect x="136" y="316" width="3" height="3" fill="#ff0000"/>
<polyline points="130.0,334.0 139.0,318.0" fill="none" stroke="#ff0000" stroke-width="1"/>
<rect x="135.5" y="315.5" width="110" height="77" fill="none" stroke="#000" stroke-width="1.2"/>
<text x="128.3" y="319.3" font-size="10.5" fill="#000" text-anchor="end" font-weight="normal" >20</text>
<text x="128.3" y="337.8" font-size="10.5" fill="#000" text-anchor="end" font-weight="normal" >15</text>
<text x="128.3" y="357.90000000000003" font-size="10.5" fill="#000" text-anchor="end" font-weight="normal" >10</text>
<text x="128.3" y="377.0" font-size="10.5" fill="#000" text-anchor="end" font-weight="normal" >5</text>
<text x="128.3" y="396.1" font-size="10.5" fill="#000" text-anchor="end" font-weight="normal" >0</text>
<text x="256.4" y="319.3" font-size="10.5" fill="#000" text-anchor="middle" font-weight="normal" >72</text>
<text x="256.4" y="337.8" font-size="10.5" fill="#000" text-anchor="middle" font-weight="normal" >54</text>
<text x="256.4" y="357.90000000000003" font-size="10.5" fill="#000" text-anchor="middle" font-weight="normal" >36</text>
<text x="256.4" y="377.0" font-size="10.5" fill="#000" text-anchor="middle" font-weight="normal" >18</text>
<text x="256.4" y="396.1" font-size="10.5" fill="#000" text-anchor="middle" font-weight="normal" >0</text>
<text x="4.7" y="321.5" font-size="10.8" fill="#000" text-anchor="start" font-weight="normal" textLength="66.4" lengthAdjust="spacingAndGlyphs">Wiatr na 10m:</text>
<text x="9.5" y="338.1" font-size="10.8" fill="#ff0000" text-anchor="start" font-weight="normal" textLength="100.8" lengthAdjust="spacingAndGlyphs">poryw powyżej skali</text>
<polyline points="109.0,334.5 114.0,334.5" fill="none" stroke="#ff0000" stroke-width="1"/>
<text x="9.5" y="351.6" font-size="10.8" fill="#ff0000" text-anchor="start" font-weight="normal" textLength="94.9" lengthAdjust="spacingAndGlyphs">max porywy wiatru</text>
<text x="9.5" y="372" font-size="10.8" fill="#101090" text-anchor="start" font-weight="normal" textLength="78.5" lengthAdjust="spacingAndGlyphs">prędkość wiatru</text>
<polyline points="92.0,368.5 136.0,368.5" fill="none" stroke="#101090" stroke-width="1"/>
<text x="9.5" y="384.1" font-size="10.8" fill="#101090" text-anchor="start" font-weight="normal" textLength="88.5" lengthAdjust="spacingAndGlyphs">w środku obszaru</text>
<rect x="136" y="398" width="109" height="32" fill="#ffffff"/>
<rect x="170" y="398" width="61.599999999999994" height="32" fill="#edf3fb"/>
<line x1="143.5" y1="398" x2="143.5" y2="430" stroke="#000" stroke-width="1" stroke-dasharray="2,2"/>
<line x1="164.5" y1="398" x2="164.5" y2="430" stroke="#000" stroke-width="1" stroke-dasharray="2,2"/>
<line x1="184.5" y1="398" x2="184.5" y2="430" stroke="#000" stroke-width="1" stroke-dasharray="2,2"/>
<line x1="204.5" y1="398" x2="204.5" y2="430" stroke="#000" stroke-width="1" stroke-dasharray="2,2"/>
<line x1="225.5" y1="398" x2="225.5" y2="430" stroke="#000" stroke-width="1" stroke-dasharray="2,2"/>
<line x1="139" y1="404" x2="144.5" y2="418" stroke="#0000a0" stroke-width="1.1"/>
<polygon points="141.5,417 147.5,416 145.8,422" fill="#0000a0"/>
<line x1="146" y1="404" x2="151.5" y2="418" stroke="#0000a0" stroke-width="1.1"/>
<polygon points="148.5,417 154.5,416 152.8,422" fill="#0000a0"/>
<line x1="153" y1="404" x2="158.5" y2="418" stroke="#0000a0" stroke-width="1.1"/>
<polygon points="155.5,417 161.5,416 159.8,422" fill="#0000a0"/>
<line x1="160" y1="404" x2="165.5" y2="418" stroke="#0000a0" stroke-width="1.1"/>
<polygon points="162.5,417 168.5,416 166.8,422" fill="#0000a0"/>
<line x1="167" y1="404" x2="172.5" y2="418" stroke="#0000a0" stroke-width="1.1"/>
<polygon points="169.5,417 175.5,416 173.8,422" fill="#0000a0"/>
<line x1="174" y1="404" x2="179.5" y2="418" stroke="#0000a0" stroke-width="1.1"/>
<polygon points="176.5,417 182.5,416 180.8,422" fill="#0000a0"/>
<line x1="181" y1="404" x2="186.5" y2="418" stroke="#0000a0" stroke-width="1.1"/>
<polygon points="183.5,417 189.5,416 187.8,422" fill="#0000a0"/>
<line x1="188" y1="404" x2="193.5" y2="418" stroke="#0000a0" stroke-width="1.1"/>
<polygon points="190.5,417 196.5,416 194.8,422" fill="#0000a0"/>
<line x1="195" y1="404" x2="200.5" y2="418" stroke="#0000a0" stroke-width="1.1"/>
<polygon points="197.5,417 203.5,416 201.8,422" fill="#0000a0"/>
<line x1="202" y1="404" x2="207.5" y2="418" stroke="#0000a0" stroke-width="1.1"/>
<polygon points="204.5,417 210.5,416 208.8,422" fill="#0000a0"/>
<line x1="209" y1="404" x2="214.5" y2="418" stroke="#0000a0" stroke-width="1.1"/>
<polygon points="211.5,417 217.5,416 215.8,422" fill="#0000a0"/>
<line x1="216" y1="404" x2="221.5" y2="418" stroke="#0000a0" stroke-width="1.1"/>
<polygon points="218.5,417 224.5,416 222.8,422" fill="#0000a0"/>
<line x1="223" y1="404" x2="228.5" y2="418" stroke="#0000a0" stroke-width="1.1"/>
<polygon points="225.5,417 231.5,416 229.8,422" fill="#0000a0"/>
<line x1="230" y1="404" x2="235.5" y2="418" stroke="#0000a0" stroke-width="1.1"/>
<polygon points="232.5,417 238.5,416 236.8,422" fill="#0000a0"/>
<line x1="237" y1="404" x2="242.5" y2="418" stroke="#0000a0" stroke-width="1.1"/>
<polygon points="239.5,417 245.5,416 243.8,422" fill="#0000a0"/>
<line x1="244" y1="404" x2="249.5" y2="418" stroke="#0000a0" stroke-width="1.1"/>
<polygon points="246.5,417 252.5,416 250.8,422" fill="#0000a0"/>
<polyline points="86.0,410.5 133.0,410.5 140.0,413.0" fill="none" stroke="#101090" stroke-width="1"/>
<rect x="135.5" y="398.5" width="110" height="32" fill="none" stroke="#000" stroke-width="1.2"/>
<text x="9.5" y="412.3" font-size="10.8" fill="#101090" text-anchor="start" font-weight="normal" textLength="73.7" lengthAdjust="spacingAndGlyphs">kierunek wiatru</text>
<rect x="136" y="436" width="109" height="78" fill="#88d0f8"/>
<rect x="170" y="436" width="61.599999999999994" height="78" fill="#80c0ec"/>
<line x1="136" y1="457.5" x2="245" y2="457.5" stroke="#000" stroke-width="1" stroke-dasharray="2,2"/>
<line x1="136" y1="475.5" x2="245" y2="475.5" stroke="#000" stroke-width="1" stroke-dasharray="2,2"/>
<line x1="136" y1="495.5" x2="245" y2="495.5" stroke="#000" stroke-width="1" stroke-dasharray="2,2"/>
<line x1="143.5" y1="436" x2="143.5" y2="514" stroke="#000" stroke-width="1" stroke-dasharray="2,2"/>
<line x1="164.5" y1="436" x2="164.5" y2="514" stroke="#000" stroke-width="1" stroke-dasharray="2,2"/>
<line x1="184.5" y1="436" x2="184.5" y2="514" stroke="#000" stroke-width="1" stroke-dasharray="2,2"/>
<line x1="204.5" y1="436" x2="204.5" y2="514" stroke="#000" stroke-width="1" stroke-dasharray="2,2"/>
<line x1="225.5" y1="436" x2="225.5" y2="514" stroke="#000" stroke-width="1" stroke-dasharray="2,2"/>
<circle cx="170.4" cy="449.1" r="2.4" fill="#b22222"/>
<circle cx="177.3" cy="449.1" r="2.4" fill="#b22222"/>
<circle cx="184.2" cy="449.1" r="2.4" fill="#b22222"/>
<circle cx="191.1" cy="449.1" r="2.4" fill="#b22222"/>
<circle cx="198.0" cy="451.5" r="2.4" fill="#b22222"/>
<circle cx="204.5" cy="449.1" r="2.4" fill="#b22222"/>
<circle cx="211.3" cy="449.1" r="2.4" fill="#b22222"/>
<circle cx="218.2" cy="449.1" r="2.4" fill="#b22222"/>
<circle cx="225.1" cy="449.1" r="2.4" fill="#b22222"/>
<circle cx="232.0" cy="449.1" r="2.4" fill="#b22222"/>
<circle cx="238.9" cy="449.1" r="2.4" fill="#b22222"/>
<circle cx="244.8" cy="449.1" r="2.4" fill="#b22222"/>
<circle cx="150.3" cy="458.3" r="2.4" fill="#b22222"/>
<circle cx="157.6" cy="458.3" r="2.4" fill="#b22222"/>
<circle cx="164.5" cy="458.3" r="2.4" fill="#b22222"/>
<circle cx="136.9" cy="475.3" r="2.4" fill="#b22222"/>
<circle cx="143.4" cy="475.3" r="2.4" fill="#b22222"/>
<circle cx="170.4" cy="488.5" r="2.4" fill="#d0d0d0"/>
<circle cx="177.3" cy="488.5" r="2.4" fill="#d0d0d0"/>
<circle cx="198.0" cy="489.5" r="2.4" fill="#d0d0d0"/>
<circle cx="218.2" cy="500.3" r="2.4" fill="#d0d0d0"/>
<circle cx="225.1" cy="500.3" r="2.4" fill="#d0d0d0"/>
<circle cx="232.0" cy="500.3" r="2.4" fill="#d0d0d0"/>
<circle cx="239.3" cy="500.3" r="2.4" fill="#d0d0d0"/>
<circle cx="135.9" cy="505.2" r="2.4" fill="#d0d0d0"/>
<circle cx="170.4" cy="492.4" r="2.4" fill="#fff"/>
<circle cx="177.3" cy="492.4" r="2.4" fill="#fff"/>
<circle cx="198.0" cy="492.4" r="2.4" fill="#fff"/>
<circle cx="204.8" cy="492.4" r="2.4" fill="#fff"/>
<circle cx="211.3" cy="492.4" r="2.4" fill="#fff"/>
<circle cx="150.3" cy="499.3" r="2.4" fill="#fff"/>
<circle cx="164.5" cy="499.3" r="2.4" fill="#fff"/>
<circle cx="191.7" cy="499.3" r="2.4" fill="#fff"/>
<circle cx="184.2" cy="509.2" r="2.4" fill="#fff"/>
<circle cx="218.2" cy="509.2" r="2.4" fill="#fff"/>
<circle cx="225.1" cy="509.2" r="2.4" fill="#fff"/>
<circle cx="232.0" cy="509.2" r="2.4" fill="#fff"/>
<circle cx="238.9" cy="509.2" r="2.4" fill="#fff"/>
<circle cx="143.4" cy="505.2" r="2.4" fill="#fff"/>
<circle cx="136.9" cy="508.2" r="2.4" fill="#fff"/>
<circle cx="198.0" cy="485.5" r="2.4" fill="#999"/>
<circle cx="211.3" cy="484.5" r="2.4" fill="#999"/>
<circle cx="239.3" cy="493.4" r="2.4" fill="#999"/>
<circle cx="143.4" cy="481.2" r="2.4" fill="#555"/>
<circle cx="150.3" cy="492.4" r="2.4" fill="#555"/>
<circle cx="157.6" cy="492.4" r="2.4" fill="#555"/>
<circle cx="164.5" cy="492.4" r="2.4" fill="#555"/>
<circle cx="191.7" cy="488.5" r="2.4" fill="#555"/>
<circle cx="211.3" cy="481.0" r="2.4" fill="#555"/>
<circle cx="218.2" cy="488.5" r="2.4" fill="#555"/>
<circle cx="225.1" cy="492.0" r="2.4" fill="#555"/>
<circle cx="232.0" cy="493.8" r="2.4" fill="#555"/>
<circle cx="184.2" cy="499.3" r="2.4" fill="#555"/>
<circle cx="184.2" cy="504.2" r="2.4" fill="#555"/>
<circle cx="143.4" cy="499.9" r="2.4" fill="#555"/>
<circle cx="191.1" cy="456.0" r="2.4" fill="#000"/>
<circle cx="198.3" cy="464.5" r="2.4" fill="#000"/>
<circle cx="204.5" cy="467.8" r="2.4" fill="#000"/>
<circle cx="211.3" cy="470.4" r="2.4" fill="#000"/>
<circle cx="218.2" cy="481.2" r="2.4" fill="#000"/>
<circle cx="225.1" cy="485.1" r="2.4" fill="#000"/>
<circle cx="232.0" cy="489.1" r="2.4" fill="#000"/>
<circle cx="239.3" cy="481.2" r="2.4" fill="#000"/>
<circle cx="245.2" cy="475.7" r="2.4" fill="#000"/>
<circle cx="184.2" cy="489.5" r="2.4" fill="#000"/>
<polyline points="135.9,470.8 143.8,469.8 155.6,464.8 175.3,463.9 187.1,467.8 204.8,470.8 218.6,474.7 232.4,474.3 245.5,470.8" fill="none" stroke="#ffa000" stroke-width="2.2"/>
<polyline points="57.3,468.5 130.0,468.5 191.5,456.5" fill="none" stroke="#000" stroke-width="1"/>
<polyline points="99.7,430.0 128.0,430.0 184.6,449.0" fill="none" stroke="#a52a2a" stroke-width="1"/>
<polyline points="67.9,527.0 122.0,527.0 173.5,464.0" fill="none" stroke="#ffa000" stroke-width="1"/>
<polyline points="57.3,480.5 136.0,480.5" fill="none" stroke="#555" stroke-width="1"/>
<polyline points="57.3,490.5 126.0,490.5 138.0,501.0" fill="none" stroke="#999" stroke-width="1"/>
<polyline points="57.3,500.5 124.0,500.5 137.0,506.0" fill="none" stroke="#ccc" stroke-width="1"/>
<polyline points="57.3,510.5 136.0,510.5" fill="none" stroke="#88ccf8" stroke-width="1"/>
<polyline points="57.3,512.5 136.0,512.5" fill="none" stroke="#88ccf8" stroke-width="1"/>
<rect x="135.5" y="436.5" width="110" height="78" fill="none" stroke="#000" stroke-width="1.2"/>
<text x="128.3" y="440.5" font-size="10.5" fill="#000" text-anchor="end" font-weight="normal" >15.0</text>
<text x="128.3" y="460.8" font-size="10.5" fill="#000" text-anchor="end" font-weight="normal" >7.0</text>
<text x="128.3" y="479.1" font-size="10.5" fill="#000" text-anchor="end" font-weight="normal" >2.0</text>
<text x="128.3" y="499.2" font-size="10.5" fill="#000" text-anchor="end" font-weight="normal" >0.5</text>
<text x="128.3" y="517.8" font-size="10.5" fill="#000" text-anchor="end" font-weight="normal" >0.0</text>
<text x="251" y="440.5" font-size="10.5" fill="#ff7a00" text-anchor="start" font-weight="normal" >100</text>
<text x="251" y="460.8" font-size="10.5" fill="#ff7a00" text-anchor="start" font-weight="normal" >20</text>
<text x="251" y="479.1" font-size="10.5" fill="#ff7a00" text-anchor="start" font-weight="normal" >5</text>
<text x="251" y="499.2" font-size="10.5" fill="#ff7a00" text-anchor="start" font-weight="normal" >1</text>
<text x="251" y="517.8" font-size="10.5" fill="#ff7a00" text-anchor="start" font-weight="normal" >0</text>
<text x="5.9" y="432.4" font-size="10.8" fill="#b22222" text-anchor="start" font-weight="normal" textLength="90.6" lengthAdjust="spacingAndGlyphs">Wierzchołek chmur</text>
<text x="5.9" y="447.7" font-size="10.8" fill="#000" text-anchor="start" font-weight="normal" textLength="85.3" lengthAdjust="spacingAndGlyphs">Podstawa chmur*</text>
<text x="5.9" y="459" font-size="10.8" fill="#000" text-anchor="start" font-weight="normal" textLength="47.1" lengthAdjust="spacingAndGlyphs">o pokryciu</text>
<text x="10.6" y="471.7" font-size="10.8" fill="#000" text-anchor="start" font-weight="normal" textLength="44.1" lengthAdjust="spacingAndGlyphs">&gt; 7.9 okt.</text>
<text x="10.6" y="482.7" font-size="10.8" fill="#555" text-anchor="start" font-weight="normal" textLength="44.1" lengthAdjust="spacingAndGlyphs">&gt; 6.5 okt.</text>
<text x="10.6" y="493.5" font-size="10.8" fill="#999" text-anchor="start" font-weight="normal" textLength="42.4" lengthAdjust="spacingAndGlyphs">&gt; 4.5 okt.</text>
<text x="10.6" y="503.5" font-size="10.8" fill="#ccc" text-anchor="start" font-weight="normal" textLength="42.4" lengthAdjust="spacingAndGlyphs">&gt; 2.5 okt.</text>
<rect x="10" y="505.6" width="45" height="10.6" fill="#88ccf8"/>
<text x="10.6" y="514.5" font-size="10.8" fill="#fff" text-anchor="start" font-weight="normal" textLength="44.1" lengthAdjust="spacingAndGlyphs">&gt; 0.1 okt.</text>
<text x="5.9" y="527.9" font-size="10.8" fill="#ff8c00" text-anchor="start" font-weight="normal" textLength="57.3" lengthAdjust="spacingAndGlyphs">Widzialność</text>
<text x="128.3" y="530" font-size="10.5" fill="#000" text-anchor="end" font-weight="normal" >8</text>
<rect x="136" y="523" width="109" height="78" fill="#88d0f8"/>
<rect x="170" y="523" width="61.599999999999994" height="78" fill="#80c0ec"/>
<polygon points="165.4,601.4 166.2,588.7 169.4,578.4 174.1,568.9 180.5,564.1 185.2,561.0 190.0,551.5 194.7,545.1 199.5,541.9 204.2,540.4 210.6,527.7 216.9,524.8 226.4,524.5 234.4,526.1 239.1,535.6 245.4,543.5 245.4,601.4" fill="#ffffff"/>
<polygon points="185.2,601.4 193.1,575.2 194.7,546.7 197.9,530.8 204.2,533.2 207.4,534.0 210.6,528.5 216.9,525.8 226.4,524.5 245.4,524.2 245.4,601.4" fill="#9a9a9a"/>
<polyline points="204.2,540.4 210.6,527.7 216.9,524.8 226.4,524.5 234.4,526.1 239.1,535.6 245.4,543.5" fill="none" stroke="#ffffff" stroke-width="1"/>
<polygon points="135.3,601.4 135.3,573.6 143.2,562.5 149.6,576.0 156.7,581.6 164.6,585.5 166.5,589.5 177.3,592.7 184.4,569.7 191.6,569.7 193.1,575.2 204.2,592.7 210.6,567.3 216.9,543.5 224.8,534.8 231.2,537.2 237.5,546.7 245.4,565.7 245.4,601.4" fill="#595959"/>
<polygon points="135.3,597.4 148.8,591.1 163.0,601.4 135.3,601.4" fill="#303030"/>
<polyline points="135.3,589.5 145.6,595.8 153.5,601.4" fill="none" stroke="#b0b0b0" stroke-width="0.8"/>
<polyline points="185.2,601.4 193.1,575.2" fill="none" stroke="#c0c0c0" stroke-width="0.8"/>
<line x1="136" y1="543.5" x2="245" y2="543.5" stroke="#000" stroke-width="1" stroke-dasharray="2,2"/>
<line x1="136" y1="562.5" x2="245" y2="562.5" stroke="#000" stroke-width="1" stroke-dasharray="2,2"/>
<line x1="136" y1="582.5" x2="245" y2="582.5" stroke="#000" stroke-width="1" stroke-dasharray="2,2"/>
<line x1="143.5" y1="523" x2="143.5" y2="601" stroke="#000" stroke-width="1" stroke-dasharray="2,2"/>
<line x1="164.5" y1="523" x2="164.5" y2="601" stroke="#000" stroke-width="1" stroke-dasharray="2,2"/>
<line x1="184.5" y1="523" x2="184.5" y2="601" stroke="#000" stroke-width="1" stroke-dasharray="2,2"/>
<line x1="204.5" y1="523" x2="204.5" y2="601" stroke="#000" stroke-width="1" stroke-dasharray="2,2"/>
<line x1="225.5" y1="523" x2="225.5" y2="601" stroke="#000" stroke-width="1" stroke-dasharray="2,2"/>
<rect x="216.9" y="590.3" width="3.2" height="11" fill="#ffb400"/>
<rect x="224" y="590.3" width="2.4" height="11" fill="#ffb400"/>
<rect x="231.2" y="590.3" width="3.1" height="11" fill="#ffb400"/>
<rect x="237.8" y="590.3" width="3.2" height="11" fill="#ffb400"/>
<rect x="135.5" y="523.5" width="110" height="78" fill="none" stroke="#000" stroke-width="1.2"/>
<text x="128.3" y="547.3" font-size="10.5" fill="#000" text-anchor="end" font-weight="normal" >6</text>
<text x="128.3" y="566.0" font-size="10.5" fill="#000" text-anchor="end" font-weight="normal" >4</text>
<text x="128.3" y="585.8" font-size="10.5" fill="#000" text-anchor="end" font-weight="normal" >2</text>
<text x="128.3" y="604.8" font-size="10.5" fill="#000" text-anchor="end" font-weight="normal" >0</text>
<text x="251" y="527.1999999999999" font-size="10.5" fill="#ff7a00" text-anchor="start" font-weight="normal" >1</text>
<text x="251" y="547.3" font-size="10.5" fill="#ff7a00" text-anchor="start" font-weight="normal" >0.75</text>
<text x="251" y="566.0" font-size="10.5" fill="#ff7a00" text-anchor="start" font-weight="normal" >0.5</text>
<text x="251" y="585.8" font-size="10.5" fill="#ff7a00" text-anchor="start" font-weight="normal" >0.25</text>
<text x="251" y="604.8" font-size="10.5" fill="#ff7a00" text-anchor="start" font-weight="normal" >0</text>
<text x="163.7" y="614.5" font-size="10.8" fill="#000" text-anchor="middle" font-weight="normal" >18</text>
<text x="203.7" y="614.5" font-size="10.8" fill="#000" text-anchor="middle" font-weight="normal" >00</text>
<text x="244.5" y="614.5" font-size="10.8" fill="#000" text-anchor="middle" font-weight="normal" >06</text>
<text x="5.3" y="546.5" font-size="10.8" fill="#000" text-anchor="start" font-weight="normal" textLength="39.2" lengthAdjust="spacingAndGlyphs">Chmury:</text>
<rect x="10" y="551.4" width="41" height="10.6" fill="#88ccf8"/>
<text x="10.6" y="560.3" font-size="10.8" fill="#fff" text-anchor="start" font-weight="normal" textLength="40.3" lengthAdjust="spacingAndGlyphs">wysokie</text>
<polyline points="54.0,557.5 136.0,557.5" fill="none" stroke="#88ccf8" stroke-width="1"/>
<polyline points="54.0,559.5 136.0,559.5" fill="none" stroke="#88ccf8" stroke-width="1"/>
<text x="9.5" y="572" font-size="10.8" fill="#aaa" text-anchor="start" font-weight="normal" textLength="35.5" lengthAdjust="spacingAndGlyphs">średnie</text>
<polyline points="48.8,570.5 136.0,570.5" fill="none" stroke="#999" stroke-width="1"/>
<text x="9.5" y="584" font-size="10.8" fill="#444" text-anchor="start" font-weight="normal" textLength="26.6" lengthAdjust="spacingAndGlyphs">niskie</text>
<polyline points="40.3,582.5 118.0,582.5" fill="none" stroke="#444" stroke-width="1"/>
<polyline points="127.0,582.5 136.0,582.5" fill="none" stroke="#444" stroke-width="1"/>
<text x="9.5" y="596.4" font-size="10.8" fill="#000" text-anchor="start" font-weight="normal" textLength="61.6" lengthAdjust="spacingAndGlyphs">bardzo niskie</text>
<polyline points="74.2,594.5 136.0,594.5" fill="none" stroke="#222" stroke-width="1"/>
<text x="5.3" y="608" font-size="10.8" fill="#ffb000" text-anchor="start" font-weight="normal" textLength="21.2" lengthAdjust="spacingAndGlyphs">Mgła</text>
<polyline points="29.7,605.5 218.0,605.5 220.0,601.0" fill="none" stroke="#ffb000" stroke-width="1"/>
<text x="5.3" y="626" font-size="12.1" fill="#000" text-anchor="start" font-weight="normal" textLength="131.5" lengthAdjust="spacingAndGlyphs">Czas uniwersalny (UTC)</text>
<polyline points="139.0,623.0 146.0,623.0 158.0,613.0" fill="none" stroke="#000" stroke-width="1"/>
<text x="5" y="650.5" font-size="10" fill="#000" text-anchor="start" font-weight="normal" >*</text>
<text x="11" y="650.5" font-size="9.5" fill="#000" text-anchor="start" font-weight="normal" font-weight="bold" textLength="97.2" lengthAdjust="spacingAndGlyphs">powyżej poziomu morza</text>
<rect x="4.8" y="0" width="1.3" height="1.2" fill="#000"/>
</svg></body></html>
